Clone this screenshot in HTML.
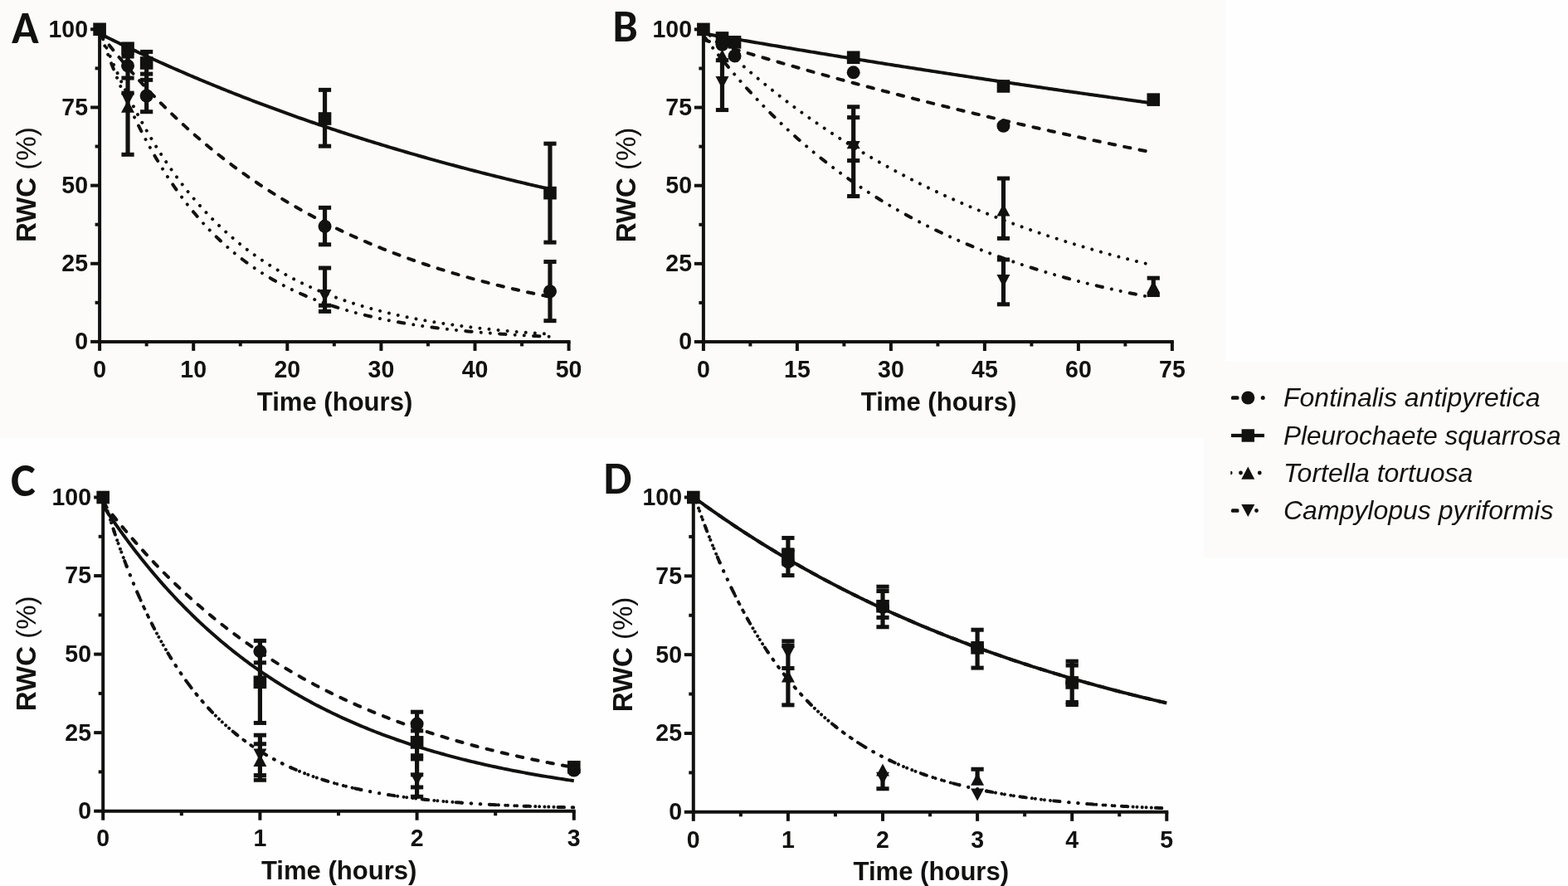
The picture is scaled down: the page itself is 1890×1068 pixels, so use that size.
<!DOCTYPE html>
<html><head><meta charset="utf-8"><title>RWC figure</title><style>html,body{margin:0;padding:0;background:#fefefe}svg{display:block}</style></head><body>
<svg width="1890" height="1068" viewBox="0 0 1890 1068">
<style>
.tl{font-family:"Liberation Sans",Arial,sans-serif;font-weight:bold;font-size:30px;fill:#111110}
.at{font-family:"Liberation Sans",Arial,sans-serif;font-weight:bold;font-size:31.05px;fill:#111110}
.ry{font-family:"Liberation Sans",Arial,sans-serif;font-weight:bold;font-size:33px;fill:#111110}
.ry tspan{font-weight:normal}
.pl{font-family:Carlito,"Liberation Sans",sans-serif;font-weight:bold;font-size:54px;fill:#111110}
.lg{font-family:"Liberation Sans",Arial,sans-serif;font-style:italic;font-size:32px;fill:#111110}
</style>
<rect width="1890" height="1068" fill="#fefefe"/>
<path d="M0 0H1477V436H1890V672H1451V528H0Z" fill="#fcfbf9"/>
<line x1="120.1" y1="33.799999999999955" x2="120.1" y2="413.9" stroke="#111110" stroke-width="4.0"/>
<line x1="118.1" y1="411.9" x2="687.6" y2="411.9" stroke="#111110" stroke-width="4.0"/>
<line x1="109.1" y1="411.90" x2="120.1" y2="411.90" stroke="#111110" stroke-width="4.0"/>
<line x1="114.6" y1="364.82" x2="120.1" y2="364.82" stroke="#111110" stroke-width="4.0"/>
<line x1="109.1" y1="317.75" x2="120.1" y2="317.75" stroke="#111110" stroke-width="4.0"/>
<line x1="114.6" y1="270.67" x2="120.1" y2="270.67" stroke="#111110" stroke-width="4.0"/>
<line x1="109.1" y1="223.60" x2="120.1" y2="223.60" stroke="#111110" stroke-width="4.0"/>
<line x1="114.6" y1="176.52" x2="120.1" y2="176.52" stroke="#111110" stroke-width="4.0"/>
<line x1="109.1" y1="129.45" x2="120.1" y2="129.45" stroke="#111110" stroke-width="4.0"/>
<line x1="114.6" y1="82.38" x2="120.1" y2="82.38" stroke="#111110" stroke-width="4.0"/>
<line x1="109.1" y1="35.30" x2="120.1" y2="35.30" stroke="#111110" stroke-width="4.0"/>
<line x1="120.10" y1="411.9" x2="120.10" y2="422.9" stroke="#111110" stroke-width="4.0"/>
<line x1="176.65" y1="411.9" x2="176.65" y2="417.4" stroke="#111110" stroke-width="4.0"/>
<line x1="233.20" y1="411.9" x2="233.20" y2="422.9" stroke="#111110" stroke-width="4.0"/>
<line x1="289.75" y1="411.9" x2="289.75" y2="417.4" stroke="#111110" stroke-width="4.0"/>
<line x1="346.30" y1="411.9" x2="346.30" y2="422.9" stroke="#111110" stroke-width="4.0"/>
<line x1="402.85" y1="411.9" x2="402.85" y2="417.4" stroke="#111110" stroke-width="4.0"/>
<line x1="459.40" y1="411.9" x2="459.40" y2="422.9" stroke="#111110" stroke-width="4.0"/>
<line x1="515.95" y1="411.9" x2="515.95" y2="417.4" stroke="#111110" stroke-width="4.0"/>
<line x1="572.50" y1="411.9" x2="572.50" y2="422.9" stroke="#111110" stroke-width="4.0"/>
<line x1="629.05" y1="411.9" x2="629.05" y2="417.4" stroke="#111110" stroke-width="4.0"/>
<line x1="685.60" y1="411.9" x2="685.60" y2="422.9" stroke="#111110" stroke-width="4.0"/>
<text transform="translate(106,421.30) scale(0.95,1)" text-anchor="end" class="tl">0</text>
<text transform="translate(106,327.15) scale(0.95,1)" text-anchor="end" class="tl">25</text>
<text transform="translate(106,233.00) scale(0.95,1)" text-anchor="end" class="tl">50</text>
<text transform="translate(106,138.85) scale(0.95,1)" text-anchor="end" class="tl">75</text>
<text transform="translate(106,44.70) scale(0.95,1)" text-anchor="end" class="tl">100</text>
<text transform="translate(120.10,454.5) scale(0.95,1)" text-anchor="middle" class="tl">0</text>
<text transform="translate(233.20,454.5) scale(0.95,1)" text-anchor="middle" class="tl">10</text>
<text transform="translate(346.30,454.5) scale(0.95,1)" text-anchor="middle" class="tl">20</text>
<text transform="translate(459.40,454.5) scale(0.95,1)" text-anchor="middle" class="tl">30</text>
<text transform="translate(572.50,454.5) scale(0.95,1)" text-anchor="middle" class="tl">40</text>
<text transform="translate(685.60,454.5) scale(0.95,1)" text-anchor="middle" class="tl">50</text>
<polyline points="120.10,40.53 122.83,41.90 125.56,43.25 128.28,44.60 131.01,45.95 133.74,47.29 136.47,48.62 139.20,49.95 141.92,51.27 144.65,52.59 147.38,53.91 150.11,55.21 152.84,56.52 155.56,57.82 158.29,59.11 161.02,60.40 163.75,61.68 166.48,62.95 169.20,64.23 171.93,65.49 174.66,66.76 177.39,68.01 180.12,69.27 182.84,70.51 185.57,71.75 188.30,72.99 191.03,74.22 193.76,75.45 196.49,76.67 199.21,77.89 201.94,79.10 204.67,80.31 207.40,81.52 210.13,82.71 212.85,83.91 215.58,85.10 218.31,86.28 221.04,87.46 223.77,88.64 226.49,89.81 229.22,90.97 231.95,92.13 234.68,93.29 237.41,94.44 240.13,95.59 242.86,96.73 245.59,97.87 248.32,99.00 251.05,100.13 253.77,101.25 256.50,102.37 259.23,103.49 261.96,104.60 264.69,105.71 267.41,106.81 270.14,107.91 272.87,109.00 275.60,110.09 278.33,111.18 281.05,112.26 283.78,113.33 286.51,114.41 289.24,115.47 291.97,116.54 294.69,117.60 297.42,118.65 300.15,119.70 302.88,120.75 305.61,121.79 308.33,122.83 311.06,123.86 313.79,124.89 316.52,125.92 319.25,126.94 321.97,127.96 324.70,128.97 327.43,129.98 330.16,130.99 332.89,131.99 335.62,132.99 338.34,133.98 341.07,134.97 343.80,135.96 346.53,136.94 349.26,137.92 351.98,138.90 354.71,139.87 357.44,140.83 360.17,141.80 362.90,142.75 365.62,143.71 368.35,144.66 371.08,145.61 373.81,146.55 376.54,147.49 379.26,148.43 381.99,149.36 384.72,150.29 387.45,151.22 390.18,152.14 392.90,153.06 395.63,153.97 398.36,154.88 401.09,155.79 403.82,156.69 406.54,157.59 409.27,158.49 412.00,159.38 414.73,160.27 417.46,161.15 420.18,162.04 422.91,162.92 425.64,163.79 428.37,164.66 431.10,165.53 433.82,166.40 436.55,167.26 439.28,168.11 442.01,168.97 444.74,169.82 447.46,170.67 450.19,171.51 452.92,172.35 455.65,173.19 458.38,174.03 461.11,174.86 463.83,175.68 466.56,176.51 469.29,177.33 472.02,178.15 474.75,178.96 477.47,179.77 480.20,180.58 482.93,181.39 485.66,182.19 488.39,182.99 491.11,183.78 493.84,184.57 496.57,185.36 499.30,186.15 502.03,186.93 504.75,187.71 507.48,188.49 510.21,189.26 512.94,190.03 515.67,190.80 518.39,191.56 521.12,192.33 523.85,193.08 526.58,193.84 529.31,194.59 532.03,195.34 534.76,196.09 537.49,196.83 540.22,197.57 542.95,198.31 545.67,199.04 548.40,199.77 551.13,200.50 553.86,201.23 556.59,201.95 559.31,202.67 562.04,203.39 564.77,204.10 567.50,204.82 570.23,205.52 572.95,206.23 575.68,206.93 578.41,207.63 581.14,208.33 583.87,209.03 586.59,209.72 589.32,210.41 592.05,211.09 594.78,211.78 597.51,212.46 600.24,213.14 602.96,213.81 605.69,214.49 608.42,215.16 611.15,215.82 613.88,216.49 616.60,217.15 619.33,217.81 622.06,218.47 624.79,219.12 627.52,219.77 630.24,220.42 632.97,221.07 635.70,221.71 638.43,222.36 641.16,222.99 643.88,223.63 646.61,224.26 649.34,224.90 652.07,225.53 654.80,226.15 657.52,226.78 660.25,227.40 662.98,228.02" fill="none" stroke="#111110" stroke-width="4.0" stroke-linejoin="round" />
<polyline points="120.10,39.78 122.83,43.31 125.56,46.80 128.28,50.26 131.01,53.68 133.74,57.08 136.47,60.44 139.20,63.77 141.92,67.07 144.65,70.34 147.38,73.58 150.11,76.79 152.84,79.96 155.56,83.11 158.29,86.23 161.02,89.32 163.75,92.38 166.48,95.41 169.20,98.41 171.93,101.39 174.66,104.33 177.39,107.25 180.12,110.14 182.84,113.01 185.57,115.84 188.30,118.65 191.03,121.44 193.76,124.20 196.49,126.93 199.21,129.64 201.94,132.32 204.67,134.97 207.40,137.61 210.13,140.21 212.85,142.79 215.58,145.35 218.31,147.89 221.04,150.40 223.77,152.88 226.49,155.35 229.22,157.79 231.95,160.20 234.68,162.60 237.41,164.97 240.13,167.32 242.86,169.65 245.59,171.95 248.32,174.24 251.05,176.50 253.77,178.74 256.50,180.96 259.23,183.16 261.96,185.34 264.69,187.50 267.41,189.64 270.14,191.75 272.87,193.85 275.60,195.93 278.33,197.99 281.05,200.03 283.78,202.05 286.51,204.05 289.24,206.04 291.97,208.00 294.69,209.95 297.42,211.87 300.15,213.78 302.88,215.67 305.61,217.55 308.33,219.40 311.06,221.24 313.79,223.06 316.52,224.87 319.25,226.66 321.97,228.43 324.70,230.18 327.43,231.92 330.16,233.64 332.89,235.34 335.62,237.03 338.34,238.71 341.07,240.36 343.80,242.01 346.53,243.63 349.26,245.24 351.98,246.84 354.71,248.42 357.44,249.99 360.17,251.54 362.90,253.08 365.62,254.60 368.35,256.11 371.08,257.60 373.81,259.08 376.54,260.55 379.26,262.00 381.99,263.44 384.72,264.87 387.45,266.28 390.18,267.68 392.90,269.06 395.63,270.43 398.36,271.79 401.09,273.14 403.82,274.48 406.54,275.80 409.27,277.11 412.00,278.40 414.73,279.69 417.46,280.96 420.18,282.22 422.91,283.47 425.64,284.71 428.37,285.93 431.10,287.15 433.82,288.35 436.55,289.54 439.28,290.72 442.01,291.89 444.74,293.05 447.46,294.20 450.19,295.34 452.92,296.46 455.65,297.58 458.38,298.68 461.11,299.78 463.83,300.86 466.56,301.93 469.29,303.00 472.02,304.05 474.75,305.10 477.47,306.13 480.20,307.16 482.93,308.17 485.66,309.18 488.39,310.17 491.11,311.16 493.84,312.14 496.57,313.10 499.30,314.06 502.03,315.01 504.75,315.96 507.48,316.89 510.21,317.81 512.94,318.73 515.67,319.63 518.39,320.53 521.12,321.42 523.85,322.30 526.58,323.17 529.31,324.04 532.03,324.90 534.76,325.74 537.49,326.58 540.22,327.42 542.95,328.24 545.67,329.06 548.40,329.87 551.13,330.67 553.86,331.46 556.59,332.25 559.31,333.03 562.04,333.80 564.77,334.57 567.50,335.33 570.23,336.08 572.95,336.82 575.68,337.56 578.41,338.29 581.14,339.01 583.87,339.73 586.59,340.43 589.32,341.14 592.05,341.83 594.78,342.52 597.51,343.21 600.24,343.88 602.96,344.55 605.69,345.22 608.42,345.87 611.15,346.53 613.88,347.17 616.60,347.81 619.33,348.44 622.06,349.07 624.79,349.69 627.52,350.31 630.24,350.92 632.97,351.52 635.70,352.12 638.43,352.71 641.16,353.30 643.88,353.88 646.61,354.46 649.34,355.03 652.07,355.60 654.80,356.16 657.52,356.71 660.25,357.26 662.98,357.81" fill="none" stroke="#111110" stroke-width="4.0" stroke-linejoin="round" stroke-dasharray="7.4 11.3" stroke-linecap="round"/>
<polyline points="120.10,36.96 122.83,43.89 125.56,50.70 128.28,57.38 131.01,63.94 133.74,70.38 136.47,76.69 139.20,82.89 141.92,88.98 144.65,94.95 147.38,100.82 150.11,106.57 152.84,112.22 155.56,117.76 158.29,123.20 161.02,128.54 163.75,133.79 166.48,138.93 169.20,143.98 171.93,148.94 174.66,153.80 177.39,158.58 180.12,163.26 182.84,167.86 185.57,172.38 188.30,176.81 191.03,181.16 193.76,185.42 196.49,189.61 199.21,193.73 201.94,197.76 204.67,201.72 207.40,205.61 210.13,209.43 212.85,213.17 215.58,216.85 218.31,220.46 221.04,224.00 223.77,227.48 226.49,230.89 229.22,234.24 231.95,237.52 234.68,240.75 237.41,243.92 240.13,247.02 242.86,250.07 245.59,253.07 248.32,256.01 251.05,258.89 253.77,261.72 256.50,264.50 259.23,267.23 261.96,269.90 264.69,272.53 267.41,275.11 270.14,277.64 272.87,280.12 275.60,282.56 278.33,284.95 281.05,287.30 283.78,289.61 286.51,291.87 289.24,294.09 291.97,296.27 294.69,298.41 297.42,300.51 300.15,302.57 302.88,304.59 305.61,306.58 308.33,308.53 311.06,310.44 313.79,312.32 316.52,314.16 319.25,315.97 321.97,317.74 324.70,319.49 327.43,321.20 330.16,322.88 332.89,324.52 335.62,326.14 338.34,327.73 341.07,329.28 343.80,330.81 346.53,332.31 349.26,333.79 351.98,335.23 354.71,336.65 357.44,338.04 360.17,339.41 362.90,340.75 365.62,342.07 368.35,343.36 371.08,344.63 373.81,345.87 376.54,347.10 379.26,348.29 381.99,349.47 384.72,350.63 387.45,351.76 390.18,352.87 392.90,353.97 395.63,355.04 398.36,356.09 401.09,357.12 403.82,358.14 406.54,359.13 409.27,360.11 412.00,361.07 414.73,362.01 417.46,362.93 420.18,363.84 422.91,364.73 425.64,365.60 428.37,366.46 431.10,367.30 433.82,368.13 436.55,368.94 439.28,369.73 442.01,370.51 444.74,371.28 447.46,372.03 450.19,372.77 452.92,373.49 455.65,374.20 458.38,374.90 461.11,375.59 463.83,376.26 466.56,376.92 469.29,377.57 472.02,378.20 474.75,378.83 477.47,379.44 480.20,380.04 482.93,380.63 485.66,381.21 488.39,381.78 491.11,382.34 493.84,382.88 496.57,383.42 499.30,383.95 502.03,384.47 504.75,384.97 507.48,385.47 510.21,385.96 512.94,386.44 515.67,386.91 518.39,387.38 521.12,387.83 523.85,388.28 526.58,388.71 529.31,389.14 532.03,389.57 534.76,389.98 537.49,390.39 540.22,390.78 542.95,391.18 545.67,391.56 548.40,391.94 551.13,392.31 553.86,392.67 556.59,393.03 559.31,393.38 562.04,393.72 564.77,394.06 567.50,394.39 570.23,394.71 572.95,395.03 575.68,395.34 578.41,395.65 581.14,395.95 583.87,396.25 586.59,396.54 589.32,396.82 592.05,397.10 594.78,397.38 597.51,397.65 600.24,397.91 602.96,398.17 605.69,398.42 608.42,398.67 611.15,398.92 613.88,399.16 616.60,399.40 619.33,399.63 622.06,399.86 624.79,400.08 627.52,400.30 630.24,400.51 632.97,400.73 635.70,400.93 638.43,401.14 641.16,401.34 643.88,401.53 646.61,401.72 649.34,401.91 652.07,402.10 654.80,402.28 657.52,402.46 660.25,402.63 662.98,402.81" fill="none" stroke="#111110" stroke-width="4.0" stroke-linejoin="round" stroke-dasharray="0.01 11.1" stroke-linecap="round"/>
<polyline points="120.10,37.90 122.83,45.69 125.56,53.32 128.28,60.79 131.01,68.11 133.74,75.27 136.47,82.28 139.20,89.15 141.92,95.87 144.65,102.46 147.38,108.90 150.11,115.21 152.84,121.39 155.56,127.44 158.29,133.37 161.02,139.17 163.75,144.85 166.48,150.41 169.20,155.86 171.93,161.19 174.66,166.41 177.39,171.52 180.12,176.52 182.84,181.43 185.57,186.22 188.30,190.92 191.03,195.52 193.76,200.03 196.49,204.44 199.21,208.76 201.94,212.98 204.67,217.12 207.40,221.18 210.13,225.15 212.85,229.03 215.58,232.84 218.31,236.56 221.04,240.21 223.77,243.78 226.49,247.28 229.22,250.71 231.95,254.06 234.68,257.34 237.41,260.56 240.13,263.71 242.86,266.79 245.59,269.81 248.32,272.76 251.05,275.65 253.77,278.49 256.50,281.26 259.23,283.98 261.96,286.63 264.69,289.24 267.41,291.79 270.14,294.28 272.87,296.73 275.60,299.12 278.33,301.46 281.05,303.76 283.78,306.01 286.51,308.21 289.24,310.36 291.97,312.47 294.69,314.53 297.42,316.55 300.15,318.53 302.88,320.47 305.61,322.37 308.33,324.23 311.06,326.05 313.79,327.83 316.52,329.57 319.25,331.28 321.97,332.95 324.70,334.59 327.43,336.19 330.16,337.76 332.89,339.30 335.62,340.81 338.34,342.28 341.07,343.72 343.80,345.14 346.53,346.52 349.26,347.87 351.98,349.20 354.71,350.50 357.44,351.77 360.17,353.01 362.90,354.23 365.62,355.43 368.35,356.60 371.08,357.74 373.81,358.86 376.54,359.96 379.26,361.03 381.99,362.08 384.72,363.11 387.45,364.12 390.18,365.11 392.90,366.08 395.63,367.02 398.36,367.95 401.09,368.86 403.82,369.74 406.54,370.61 409.27,371.47 412.00,372.30 414.73,373.12 417.46,373.92 420.18,374.70 422.91,375.47 425.64,376.22 428.37,376.95 431.10,377.67 433.82,378.38 436.55,379.07 439.28,379.74 442.01,380.40 444.74,381.05 447.46,381.68 450.19,382.31 452.92,382.91 455.65,383.51 458.38,384.09 461.11,384.66 463.83,385.22 466.56,385.77 469.29,386.30 472.02,386.83 474.75,387.34 477.47,387.84 480.20,388.34 482.93,388.82 485.66,389.29 488.39,389.75 491.11,390.21 493.84,390.65 496.57,391.08 499.30,391.51 502.03,391.92 504.75,392.33 507.48,392.73 510.21,393.12 512.94,393.50 515.67,393.88 518.39,394.24 521.12,394.60 523.85,394.95 526.58,395.30 529.31,395.63 532.03,395.96 534.76,396.29 537.49,396.60 540.22,396.91 542.95,397.22 545.67,397.51 548.40,397.80 551.13,398.09 553.86,398.37 556.59,398.64 559.31,398.91 562.04,399.17 564.77,399.43 567.50,399.68 570.23,399.92 572.95,400.16 575.68,400.40 578.41,400.63 581.14,400.85 583.87,401.08 586.59,401.29 589.32,401.50 592.05,401.71 594.78,401.91 597.51,402.11 600.24,402.31 602.96,402.50 605.69,402.68 608.42,402.87 611.15,403.05 613.88,403.22 616.60,403.39 619.33,403.56 622.06,403.73 624.79,403.89 627.52,404.04 630.24,404.20 632.97,404.35 635.70,404.50 638.43,404.64 641.16,404.79 643.88,404.92 646.61,405.06 649.34,405.19 652.07,405.32 654.80,405.45 657.52,405.58 660.25,405.70 662.98,405.82" fill="none" stroke="#111110" stroke-width="4.0" stroke-linejoin="round" stroke-dasharray="7.4 11.2 0.01 11.1 0.01 11.3" stroke-linecap="round"/>
<line x1="154.03" y1="58.27" x2="154.03" y2="186.32" stroke="#111110" stroke-width="5.2"/>
<rect x="146.43" y="65.56" width="15.2" height="5.0" fill="#111110"/>
<rect x="146.43" y="91.55" width="15.2" height="5.0" fill="#111110"/>
<rect x="146.43" y="109.63" width="15.2" height="5.0" fill="#111110"/>
<rect x="146.43" y="183.82" width="15.2" height="5.0" fill="#111110"/>
<line x1="176.65" y1="62.42" x2="176.65" y2="134.72" stroke="#111110" stroke-width="5.2"/>
<rect x="169.05" y="59.92" width="15.2" height="5.0" fill="#111110"/>
<rect x="169.05" y="86.65" width="15.2" height="5.0" fill="#111110"/>
<rect x="169.05" y="93.81" width="15.2" height="5.0" fill="#111110"/>
<rect x="169.05" y="132.22" width="15.2" height="5.0" fill="#111110"/>
<line x1="391.54" y1="108.36" x2="391.54" y2="176.15" stroke="#111110" stroke-width="5.2"/>
<rect x="383.94" y="105.86" width="15.2" height="5.0" fill="#111110"/>
<rect x="383.94" y="173.65" width="15.2" height="5.0" fill="#111110"/>
<line x1="391.54" y1="250.34" x2="391.54" y2="294.78" stroke="#111110" stroke-width="5.2"/>
<rect x="383.94" y="247.84" width="15.2" height="5.0" fill="#111110"/>
<rect x="383.94" y="292.28" width="15.2" height="5.0" fill="#111110"/>
<line x1="391.54" y1="323.02" x2="391.54" y2="375.37" stroke="#111110" stroke-width="5.2"/>
<rect x="383.94" y="320.52" width="15.2" height="5.0" fill="#111110"/>
<rect x="383.94" y="365.71" width="15.2" height="5.0" fill="#111110"/>
<rect x="383.94" y="372.87" width="15.2" height="5.0" fill="#111110"/>
<line x1="662.98" y1="173.14" x2="662.98" y2="292.14" stroke="#111110" stroke-width="5.2"/>
<rect x="655.38" y="170.64" width="15.2" height="5.0" fill="#111110"/>
<rect x="655.38" y="289.64" width="15.2" height="5.0" fill="#111110"/>
<line x1="662.98" y1="315.49" x2="662.98" y2="386.67" stroke="#111110" stroke-width="5.2"/>
<rect x="655.38" y="312.99" width="15.2" height="5.0" fill="#111110"/>
<rect x="655.38" y="384.17" width="15.2" height="5.0" fill="#111110"/>
<polygon points="154.03,120.82 162.03,135.82 146.03,135.82" fill="#111110"/>
<polygon points="154.03,127.16 162.03,112.16 146.03,112.16" fill="#111110"/>
<polygon points="391.54,364.04 399.54,349.04 383.54,349.04" fill="#111110"/>
<circle cx="154.03" cy="79.36" r="8.0" fill="#111110"/>
<circle cx="176.65" cy="115.52" r="8.0" fill="#111110"/>
<circle cx="391.54" cy="272.93" r="8.0" fill="#111110"/>
<circle cx="662.98" cy="351.27" r="8.0" fill="#111110"/>
<rect x="112.30" y="27.50" width="15.6" height="15.6" fill="#111110"/>
<rect x="146.23" y="50.47" width="15.6" height="15.6" fill="#111110"/>
<rect x="168.85" y="68.17" width="15.6" height="15.6" fill="#111110"/>
<rect x="383.74" y="135.21" width="15.6" height="15.6" fill="#111110"/>
<rect x="655.18" y="224.84" width="15.6" height="15.6" fill="#111110"/>
<line x1="847.9" y1="33.89999999999998" x2="847.9" y2="414.0" stroke="#111110" stroke-width="4.0"/>
<line x1="845.9" y1="412.0" x2="1414.875" y2="412.0" stroke="#111110" stroke-width="4.0"/>
<line x1="836.9" y1="412.00" x2="847.9" y2="412.00" stroke="#111110" stroke-width="4.0"/>
<line x1="842.4" y1="364.93" x2="847.9" y2="364.93" stroke="#111110" stroke-width="4.0"/>
<line x1="836.9" y1="317.85" x2="847.9" y2="317.85" stroke="#111110" stroke-width="4.0"/>
<line x1="842.4" y1="270.77" x2="847.9" y2="270.77" stroke="#111110" stroke-width="4.0"/>
<line x1="836.9" y1="223.70" x2="847.9" y2="223.70" stroke="#111110" stroke-width="4.0"/>
<line x1="842.4" y1="176.62" x2="847.9" y2="176.62" stroke="#111110" stroke-width="4.0"/>
<line x1="836.9" y1="129.55" x2="847.9" y2="129.55" stroke="#111110" stroke-width="4.0"/>
<line x1="842.4" y1="82.48" x2="847.9" y2="82.48" stroke="#111110" stroke-width="4.0"/>
<line x1="836.9" y1="35.40" x2="847.9" y2="35.40" stroke="#111110" stroke-width="4.0"/>
<line x1="847.90" y1="412.0" x2="847.90" y2="423.0" stroke="#111110" stroke-width="4.0"/>
<line x1="904.40" y1="412.0" x2="904.40" y2="417.5" stroke="#111110" stroke-width="4.0"/>
<line x1="960.89" y1="412.0" x2="960.89" y2="423.0" stroke="#111110" stroke-width="4.0"/>
<line x1="1017.39" y1="412.0" x2="1017.39" y2="417.5" stroke="#111110" stroke-width="4.0"/>
<line x1="1073.89" y1="412.0" x2="1073.89" y2="423.0" stroke="#111110" stroke-width="4.0"/>
<line x1="1130.39" y1="412.0" x2="1130.39" y2="417.5" stroke="#111110" stroke-width="4.0"/>
<line x1="1186.88" y1="412.0" x2="1186.88" y2="423.0" stroke="#111110" stroke-width="4.0"/>
<line x1="1243.38" y1="412.0" x2="1243.38" y2="417.5" stroke="#111110" stroke-width="4.0"/>
<line x1="1299.88" y1="412.0" x2="1299.88" y2="423.0" stroke="#111110" stroke-width="4.0"/>
<line x1="1356.38" y1="412.0" x2="1356.38" y2="417.5" stroke="#111110" stroke-width="4.0"/>
<line x1="1412.88" y1="412.0" x2="1412.88" y2="423.0" stroke="#111110" stroke-width="4.0"/>
<text transform="translate(834,421.40) scale(0.95,1)" text-anchor="end" class="tl">0</text>
<text transform="translate(834,327.25) scale(0.95,1)" text-anchor="end" class="tl">25</text>
<text transform="translate(834,233.10) scale(0.95,1)" text-anchor="end" class="tl">50</text>
<text transform="translate(834,138.95) scale(0.95,1)" text-anchor="end" class="tl">75</text>
<text transform="translate(834,44.80) scale(0.95,1)" text-anchor="end" class="tl">100</text>
<text transform="translate(847.90,454.5) scale(0.95,1)" text-anchor="middle" class="tl">0</text>
<text transform="translate(960.89,454.5) scale(0.95,1)" text-anchor="middle" class="tl">15</text>
<text transform="translate(1073.89,454.5) scale(0.95,1)" text-anchor="middle" class="tl">30</text>
<text transform="translate(1186.88,454.5) scale(0.95,1)" text-anchor="middle" class="tl">45</text>
<text transform="translate(1299.88,454.5) scale(0.95,1)" text-anchor="middle" class="tl">60</text>
<text transform="translate(1412.88,454.5) scale(0.95,1)" text-anchor="middle" class="tl">75</text>
<polyline points="847.90,40.33 850.63,40.81 853.35,41.29 856.08,41.77 858.80,42.24 861.53,42.72 864.25,43.19 866.98,43.67 869.70,44.14 872.43,44.62 875.16,45.09 877.88,45.56 880.61,46.03 883.33,46.50 886.06,46.97 888.78,47.44 891.51,47.91 894.23,48.38 896.96,48.85 899.68,49.32 902.41,49.78 905.14,50.25 907.86,50.72 910.59,51.18 913.31,51.65 916.04,52.11 918.76,52.57 921.49,53.04 924.21,53.50 926.94,53.96 929.67,54.42 932.39,54.88 935.12,55.34 937.84,55.80 940.57,56.26 943.29,56.72 946.02,57.18 948.74,57.63 951.47,58.09 954.19,58.54 956.92,59.00 959.65,59.45 962.37,59.91 965.10,60.36 967.82,60.81 970.55,61.27 973.27,61.72 976.00,62.17 978.72,62.62 981.45,63.07 984.18,63.52 986.90,63.97 989.63,64.42 992.35,64.87 995.08,65.31 997.80,65.76 1000.53,66.21 1003.25,66.65 1005.98,67.10 1008.70,67.54 1011.43,67.98 1014.16,68.43 1016.88,68.87 1019.61,69.31 1022.33,69.75 1025.06,70.19 1027.78,70.64 1030.51,71.08 1033.23,71.51 1035.96,71.95 1038.69,72.39 1041.41,72.83 1044.14,73.27 1046.86,73.70 1049.59,74.14 1052.31,74.57 1055.04,75.01 1057.76,75.44 1060.49,75.88 1063.22,76.31 1065.94,76.74 1068.67,77.18 1071.39,77.61 1074.12,78.04 1076.84,78.47 1079.57,78.90 1082.29,79.33 1085.02,79.76 1087.74,80.19 1090.47,80.61 1093.20,81.04 1095.92,81.47 1098.65,81.89 1101.37,82.32 1104.10,82.74 1106.82,83.17 1109.55,83.59 1112.27,84.02 1115.00,84.44 1117.73,84.86 1120.45,85.28 1123.18,85.71 1125.90,86.13 1128.63,86.55 1131.35,86.97 1134.08,87.39 1136.80,87.80 1139.53,88.22 1142.25,88.64 1144.98,89.06 1147.71,89.47 1150.43,89.89 1153.16,90.31 1155.88,90.72 1158.61,91.14 1161.33,91.55 1164.06,91.96 1166.78,92.38 1169.51,92.79 1172.24,93.20 1174.96,93.61 1177.69,94.02 1180.41,94.43 1183.14,94.84 1185.86,95.25 1188.59,95.66 1191.31,96.07 1194.04,96.48 1196.76,96.88 1199.49,97.29 1202.22,97.70 1204.94,98.10 1207.67,98.51 1210.39,98.91 1213.12,99.32 1215.84,99.72 1218.57,100.12 1221.29,100.53 1224.02,100.93 1226.75,101.33 1229.47,101.73 1232.20,102.13 1234.92,102.53 1237.65,102.93 1240.37,103.33 1243.10,103.73 1245.82,104.13 1248.55,104.52 1251.28,104.92 1254.00,105.32 1256.73,105.71 1259.45,106.11 1262.18,106.50 1264.90,106.90 1267.63,107.29 1270.35,107.69 1273.08,108.08 1275.80,108.47 1278.53,108.86 1281.26,109.25 1283.98,109.65 1286.71,110.04 1289.43,110.43 1292.16,110.82 1294.88,111.21 1297.61,111.59 1300.33,111.98 1303.06,112.37 1305.79,112.76 1308.51,113.14 1311.24,113.53 1313.96,113.91 1316.69,114.30 1319.41,114.68 1322.14,115.07 1324.86,115.45 1327.59,115.84 1330.31,116.22 1333.04,116.60 1335.77,116.98 1338.49,117.36 1341.22,117.74 1343.94,118.12 1346.67,118.50 1349.39,118.88 1352.12,119.26 1354.84,119.64 1357.57,120.02 1360.30,120.40 1363.02,120.77 1365.75,121.15 1368.47,121.53 1371.20,121.90 1373.92,122.28 1376.65,122.65 1379.37,123.03 1382.10,123.40 1384.82,123.77 1387.55,124.14 1390.28,124.52" fill="none" stroke="#111110" stroke-width="4.0" stroke-linejoin="round" />
<polyline points="847.90,47.83 850.63,48.67 853.35,49.51 856.08,50.36 858.80,51.19 861.53,52.03 864.25,52.87 866.98,53.70 869.70,54.53 872.43,55.36 875.16,56.19 877.88,57.01 880.61,57.84 883.33,58.66 886.06,59.48 888.78,60.30 891.51,61.12 894.23,61.93 896.96,62.74 899.68,63.56 902.41,64.37 905.14,65.17 907.86,65.98 910.59,66.78 913.31,67.59 916.04,68.39 918.76,69.19 921.49,69.98 924.21,70.78 926.94,71.57 929.67,72.37 932.39,73.16 935.12,73.94 937.84,74.73 940.57,75.52 943.29,76.30 946.02,77.08 948.74,77.86 951.47,78.64 954.19,79.42 956.92,80.19 959.65,80.96 962.37,81.73 965.10,82.50 967.82,83.27 970.55,84.04 973.27,84.80 976.00,85.57 978.72,86.33 981.45,87.09 984.18,87.84 986.90,88.60 989.63,89.35 992.35,90.11 995.08,90.86 997.80,91.61 1000.53,92.36 1003.25,93.10 1005.98,93.85 1008.70,94.59 1011.43,95.33 1014.16,96.07 1016.88,96.81 1019.61,97.55 1022.33,98.28 1025.06,99.01 1027.78,99.74 1030.51,100.47 1033.23,101.20 1035.96,101.93 1038.69,102.65 1041.41,103.38 1044.14,104.10 1046.86,104.82 1049.59,105.54 1052.31,106.26 1055.04,106.97 1057.76,107.69 1060.49,108.40 1063.22,109.11 1065.94,109.82 1068.67,110.53 1071.39,111.23 1074.12,111.94 1076.84,112.64 1079.57,113.34 1082.29,114.04 1085.02,114.74 1087.74,115.44 1090.47,116.13 1093.20,116.83 1095.92,117.52 1098.65,118.21 1101.37,118.90 1104.10,119.59 1106.82,120.27 1109.55,120.96 1112.27,121.64 1115.00,122.32 1117.73,123.00 1120.45,123.68 1123.18,124.36 1125.90,125.03 1128.63,125.71 1131.35,126.38 1134.08,127.05 1136.80,127.72 1139.53,128.39 1142.25,129.06 1144.98,129.72 1147.71,130.38 1150.43,131.05 1153.16,131.71 1155.88,132.37 1158.61,133.03 1161.33,133.68 1164.06,134.34 1166.78,134.99 1169.51,135.64 1172.24,136.29 1174.96,136.94 1177.69,137.59 1180.41,138.24 1183.14,138.88 1185.86,139.53 1188.59,140.17 1191.31,140.81 1194.04,141.45 1196.76,142.09 1199.49,142.72 1202.22,143.36 1204.94,143.99 1207.67,144.62 1210.39,145.25 1213.12,145.88 1215.84,146.51 1218.57,147.14 1221.29,147.76 1224.02,148.39 1226.75,149.01 1229.47,149.63 1232.20,150.25 1234.92,150.87 1237.65,151.49 1240.37,152.10 1243.10,152.72 1245.82,153.33 1248.55,153.94 1251.28,154.55 1254.00,155.16 1256.73,155.77 1259.45,156.38 1262.18,156.98 1264.90,157.59 1267.63,158.19 1270.35,158.79 1273.08,159.39 1275.80,159.99 1278.53,160.58 1281.26,161.18 1283.98,161.78 1286.71,162.37 1289.43,162.96 1292.16,163.55 1294.88,164.14 1297.61,164.73 1300.33,165.31 1303.06,165.90 1305.79,166.48 1308.51,167.07 1311.24,167.65 1313.96,168.23 1316.69,168.81 1319.41,169.39 1322.14,169.96 1324.86,170.54 1327.59,171.11 1330.31,171.68 1333.04,172.25 1335.77,172.82 1338.49,173.39 1341.22,173.96 1343.94,174.53 1346.67,175.09 1349.39,175.66 1352.12,176.22 1354.84,176.78 1357.57,177.34 1360.30,177.90 1363.02,178.46 1365.75,179.01 1368.47,179.57 1371.20,180.12 1373.92,180.67 1376.65,181.23 1379.37,181.78 1382.10,182.33 1384.82,182.87 1387.55,183.42 1390.28,183.97" fill="none" stroke="#111110" stroke-width="4.0" stroke-linejoin="round" stroke-dasharray="7.4 11.3" stroke-linecap="round"/>
<polyline points="847.90,35.02 850.63,37.71 853.35,40.37 856.08,43.02 858.80,45.65 861.53,48.25 864.25,50.84 866.98,53.42 869.70,55.97 872.43,58.50 875.16,61.02 877.88,63.52 880.61,66.00 883.33,68.46 886.06,70.90 888.78,73.33 891.51,75.74 894.23,78.13 896.96,80.51 899.68,82.87 902.41,85.21 905.14,87.53 907.86,89.84 910.59,92.13 913.31,94.41 916.04,96.66 918.76,98.91 921.49,101.13 924.21,103.34 926.94,105.54 929.67,107.72 932.39,109.88 935.12,112.03 937.84,114.16 940.57,116.27 943.29,118.38 946.02,120.46 948.74,122.53 951.47,124.59 954.19,126.63 956.92,128.66 959.65,130.67 962.37,132.67 965.10,134.66 967.82,136.62 970.55,138.58 973.27,140.52 976.00,142.45 978.72,144.36 981.45,146.26 984.18,148.15 986.90,150.02 989.63,151.88 992.35,153.73 995.08,155.56 997.80,157.38 1000.53,159.19 1003.25,160.98 1005.98,162.76 1008.70,164.53 1011.43,166.29 1014.16,168.03 1016.88,169.76 1019.61,171.48 1022.33,173.18 1025.06,174.88 1027.78,176.56 1030.51,178.23 1033.23,179.88 1035.96,181.53 1038.69,183.16 1041.41,184.78 1044.14,186.39 1046.86,187.99 1049.59,189.58 1052.31,191.15 1055.04,192.72 1057.76,194.27 1060.49,195.81 1063.22,197.35 1065.94,198.87 1068.67,200.37 1071.39,201.87 1074.12,203.36 1076.84,204.84 1079.57,206.30 1082.29,207.76 1085.02,209.20 1087.74,210.64 1090.47,212.06 1093.20,213.48 1095.92,214.88 1098.65,216.28 1101.37,217.66 1104.10,219.03 1106.82,220.40 1109.55,221.75 1112.27,223.10 1115.00,224.43 1117.73,225.76 1120.45,227.08 1123.18,228.38 1125.90,229.68 1128.63,230.97 1131.35,232.25 1134.08,233.52 1136.80,234.78 1139.53,236.03 1142.25,237.27 1144.98,238.50 1147.71,239.73 1150.43,240.94 1153.16,242.15 1155.88,243.35 1158.61,244.54 1161.33,245.72 1164.06,246.89 1166.78,248.06 1169.51,249.21 1172.24,250.36 1174.96,251.50 1177.69,252.63 1180.41,253.76 1183.14,254.87 1185.86,255.98 1188.59,257.08 1191.31,258.17 1194.04,259.25 1196.76,260.33 1199.49,261.40 1202.22,262.46 1204.94,263.51 1207.67,264.56 1210.39,265.59 1213.12,266.62 1215.84,267.65 1218.57,268.66 1221.29,269.67 1224.02,270.67 1226.75,271.67 1229.47,272.65 1232.20,273.63 1234.92,274.61 1237.65,275.57 1240.37,276.53 1243.10,277.48 1245.82,278.43 1248.55,279.37 1251.28,280.30 1254.00,281.22 1256.73,282.14 1259.45,283.05 1262.18,283.96 1264.90,284.86 1267.63,285.75 1270.35,286.63 1273.08,287.51 1275.80,288.39 1278.53,289.25 1281.26,290.11 1283.98,290.97 1286.71,291.82 1289.43,292.66 1292.16,293.49 1294.88,294.32 1297.61,295.15 1300.33,295.97 1303.06,296.78 1305.79,297.59 1308.51,298.39 1311.24,299.18 1313.96,299.97 1316.69,300.76 1319.41,301.53 1322.14,302.31 1324.86,303.07 1327.59,303.83 1330.31,304.59 1333.04,305.34 1335.77,306.09 1338.49,306.83 1341.22,307.56 1343.94,308.29 1346.67,309.01 1349.39,309.73 1352.12,310.45 1354.84,311.15 1357.57,311.86 1360.30,312.56 1363.02,313.25 1365.75,313.94 1368.47,314.62 1371.20,315.30 1373.92,315.97 1376.65,316.64 1379.37,317.31 1382.10,317.97 1384.82,318.62 1387.55,319.27 1390.28,319.92" fill="none" stroke="#111110" stroke-width="4.0" stroke-linejoin="round" stroke-dasharray="0.01 11.1" stroke-linecap="round"/>
<polyline points="847.90,42.93 850.63,46.55 853.35,50.13 856.08,53.68 858.80,57.20 861.53,60.67 864.25,64.12 866.98,67.53 869.70,70.91 872.43,74.25 875.16,77.56 877.88,80.84 880.61,84.08 883.33,87.29 886.06,90.48 888.78,93.63 891.51,96.75 894.23,99.83 896.96,102.89 899.68,105.92 902.41,108.92 905.14,111.89 907.86,114.82 910.59,117.73 913.31,120.62 916.04,123.47 918.76,126.29 921.49,129.09 924.21,131.86 926.94,134.60 929.67,137.32 932.39,140.00 935.12,142.67 937.84,145.30 940.57,147.91 943.29,150.49 946.02,153.05 948.74,155.58 951.47,158.09 954.19,160.58 956.92,163.03 959.65,165.47 962.37,167.88 965.10,170.27 967.82,172.63 970.55,174.97 973.27,177.29 976.00,179.58 978.72,181.85 981.45,184.10 984.18,186.33 986.90,188.53 989.63,190.71 992.35,192.87 995.08,195.01 997.80,197.13 1000.53,199.23 1003.25,201.31 1005.98,203.37 1008.70,205.40 1011.43,207.42 1014.16,209.42 1016.88,211.39 1019.61,213.35 1022.33,215.29 1025.06,217.21 1027.78,219.11 1030.51,220.99 1033.23,222.85 1035.96,224.69 1038.69,226.52 1041.41,228.33 1044.14,230.12 1046.86,231.89 1049.59,233.65 1052.31,235.39 1055.04,237.11 1057.76,238.81 1060.49,240.50 1063.22,242.17 1065.94,243.82 1068.67,245.46 1071.39,247.08 1074.12,248.68 1076.84,250.27 1079.57,251.85 1082.29,253.41 1085.02,254.95 1087.74,256.48 1090.47,257.99 1093.20,259.49 1095.92,260.97 1098.65,262.44 1101.37,263.89 1104.10,265.33 1106.82,266.76 1109.55,268.17 1112.27,269.57 1115.00,270.95 1117.73,272.32 1120.45,273.68 1123.18,275.02 1125.90,276.35 1128.63,277.66 1131.35,278.97 1134.08,280.26 1136.80,281.54 1139.53,282.80 1142.25,284.06 1144.98,285.30 1147.71,286.52 1150.43,287.74 1153.16,288.94 1155.88,290.14 1158.61,291.32 1161.33,292.49 1164.06,293.64 1166.78,294.79 1169.51,295.92 1172.24,297.05 1174.96,298.16 1177.69,299.26 1180.41,300.35 1183.14,301.43 1185.86,302.50 1188.59,303.56 1191.31,304.61 1194.04,305.65 1196.76,306.67 1199.49,307.69 1202.22,308.70 1204.94,309.70 1207.67,310.68 1210.39,311.66 1213.12,312.63 1215.84,313.59 1218.57,314.54 1221.29,315.48 1224.02,316.41 1226.75,317.33 1229.47,318.24 1232.20,319.15 1234.92,320.04 1237.65,320.93 1240.37,321.80 1243.10,322.67 1245.82,323.53 1248.55,324.38 1251.28,325.22 1254.00,326.06 1256.73,326.88 1259.45,327.70 1262.18,328.51 1264.90,329.31 1267.63,330.11 1270.35,330.90 1273.08,331.67 1275.80,332.44 1278.53,333.21 1281.26,333.96 1283.98,334.71 1286.71,335.45 1289.43,336.19 1292.16,336.91 1294.88,337.63 1297.61,338.34 1300.33,339.05 1303.06,339.75 1305.79,340.44 1308.51,341.12 1311.24,341.80 1313.96,342.47 1316.69,343.14 1319.41,343.79 1322.14,344.44 1324.86,345.09 1327.59,345.73 1330.31,346.36 1333.04,346.99 1335.77,347.61 1338.49,348.22 1341.22,348.83 1343.94,349.43 1346.67,350.02 1349.39,350.61 1352.12,351.20 1354.84,351.78 1357.57,352.35 1360.30,352.92 1363.02,353.48 1365.75,354.03 1368.47,354.58 1371.20,355.13 1373.92,355.67 1376.65,356.20 1379.37,356.73 1382.10,357.25 1384.82,357.77 1387.55,358.29 1390.28,358.79" fill="none" stroke="#111110" stroke-width="4.0" stroke-linejoin="round" stroke-dasharray="7.4 11.2 0.01 11.1 0.01 11.3" stroke-linecap="round"/>
<line x1="870.50" y1="72.68" x2="870.50" y2="132.56" stroke="#111110" stroke-width="5.2"/>
<rect x="862.90" y="70.18" width="15.2" height="5.0" fill="#111110"/>
<rect x="862.90" y="130.06" width="15.2" height="5.0" fill="#111110"/>
<line x1="1028.69" y1="128.80" x2="1028.69" y2="236.50" stroke="#111110" stroke-width="5.2"/>
<rect x="1021.09" y="126.30" width="15.2" height="5.0" fill="#111110"/>
<rect x="1021.09" y="139.10" width="15.2" height="5.0" fill="#111110"/>
<rect x="1021.09" y="191.07" width="15.2" height="5.0" fill="#111110"/>
<rect x="1021.09" y="234.00" width="15.2" height="5.0" fill="#111110"/>
<line x1="1209.48" y1="215.04" x2="1209.48" y2="287.35" stroke="#111110" stroke-width="5.2"/>
<rect x="1201.88" y="212.54" width="15.2" height="5.0" fill="#111110"/>
<rect x="1201.88" y="284.85" width="15.2" height="5.0" fill="#111110"/>
<line x1="1209.48" y1="312.95" x2="1209.48" y2="366.81" stroke="#111110" stroke-width="5.2"/>
<rect x="1201.88" y="310.45" width="15.2" height="5.0" fill="#111110"/>
<rect x="1201.88" y="364.31" width="15.2" height="5.0" fill="#111110"/>
<line x1="1390.28" y1="335.17" x2="1390.28" y2="355.51" stroke="#111110" stroke-width="5.2"/>
<rect x="1382.68" y="332.67" width="15.2" height="5.0" fill="#111110"/>
<rect x="1382.68" y="353.01" width="15.2" height="5.0" fill="#111110"/>
<polygon points="870.50,106.92 878.50,91.92 862.50,91.92" fill="#111110"/>
<polygon points="1028.69,184.88 1036.69,169.88 1020.69,169.88" fill="#111110"/>
<polygon points="1209.48,346.06 1217.48,331.06 1201.48,331.06" fill="#111110"/>
<polygon points="870.50,59.53 878.50,74.53 862.50,74.53" fill="#111110"/>
<polygon points="1028.69,164.23 1036.69,179.23 1020.69,179.23" fill="#111110"/>
<polygon points="1209.48,245.57 1217.48,260.57 1201.48,260.57" fill="#111110"/>
<polygon points="1390.28,338.22 1398.28,353.22 1382.28,353.22" fill="#111110"/>
<circle cx="870.50" cy="53.85" r="8.0" fill="#111110"/>
<circle cx="885.56" cy="67.41" r="8.0" fill="#111110"/>
<circle cx="1028.69" cy="87.37" r="8.0" fill="#111110"/>
<circle cx="1209.48" cy="151.77" r="8.0" fill="#111110"/>
<rect x="840.10" y="27.60" width="15.6" height="15.6" fill="#111110"/>
<rect x="862.70" y="38.14" width="15.6" height="15.6" fill="#111110"/>
<rect x="877.76" y="43.04" width="15.6" height="15.6" fill="#111110"/>
<rect x="1020.89" y="61.49" width="15.6" height="15.6" fill="#111110"/>
<rect x="1201.68" y="96.14" width="15.6" height="15.6" fill="#111110"/>
<rect x="1382.48" y="112.33" width="15.6" height="15.6" fill="#111110"/>
<line x1="124.2" y1="598.0" x2="124.2" y2="979.7" stroke="#111110" stroke-width="4.0"/>
<line x1="122.2" y1="977.7" x2="693.8" y2="977.7" stroke="#111110" stroke-width="4.0"/>
<line x1="113.2" y1="977.70" x2="124.2" y2="977.70" stroke="#111110" stroke-width="4.0"/>
<line x1="118.7" y1="930.43" x2="124.2" y2="930.43" stroke="#111110" stroke-width="4.0"/>
<line x1="113.2" y1="883.15" x2="124.2" y2="883.15" stroke="#111110" stroke-width="4.0"/>
<line x1="118.7" y1="835.88" x2="124.2" y2="835.88" stroke="#111110" stroke-width="4.0"/>
<line x1="113.2" y1="788.60" x2="124.2" y2="788.60" stroke="#111110" stroke-width="4.0"/>
<line x1="118.7" y1="741.33" x2="124.2" y2="741.33" stroke="#111110" stroke-width="4.0"/>
<line x1="113.2" y1="694.05" x2="124.2" y2="694.05" stroke="#111110" stroke-width="4.0"/>
<line x1="118.7" y1="646.78" x2="124.2" y2="646.78" stroke="#111110" stroke-width="4.0"/>
<line x1="113.2" y1="599.50" x2="124.2" y2="599.50" stroke="#111110" stroke-width="4.0"/>
<line x1="124.20" y1="977.7" x2="124.20" y2="988.7" stroke="#111110" stroke-width="4.0"/>
<line x1="218.80" y1="977.7" x2="218.80" y2="983.2" stroke="#111110" stroke-width="4.0"/>
<line x1="313.40" y1="977.7" x2="313.40" y2="988.7" stroke="#111110" stroke-width="4.0"/>
<line x1="408.00" y1="977.7" x2="408.00" y2="983.2" stroke="#111110" stroke-width="4.0"/>
<line x1="502.60" y1="977.7" x2="502.60" y2="988.7" stroke="#111110" stroke-width="4.0"/>
<line x1="597.20" y1="977.7" x2="597.20" y2="983.2" stroke="#111110" stroke-width="4.0"/>
<line x1="691.80" y1="977.7" x2="691.80" y2="988.7" stroke="#111110" stroke-width="4.0"/>
<text transform="translate(110,987.10) scale(0.95,1)" text-anchor="end" class="tl">0</text>
<text transform="translate(110,892.55) scale(0.95,1)" text-anchor="end" class="tl">25</text>
<text transform="translate(110,798.00) scale(0.95,1)" text-anchor="end" class="tl">50</text>
<text transform="translate(110,703.45) scale(0.95,1)" text-anchor="end" class="tl">75</text>
<text transform="translate(110,608.90) scale(0.95,1)" text-anchor="end" class="tl">100</text>
<text transform="translate(124.20,1020) scale(0.95,1)" text-anchor="middle" class="tl">0</text>
<text transform="translate(313.40,1020) scale(0.95,1)" text-anchor="middle" class="tl">1</text>
<text transform="translate(502.60,1020) scale(0.95,1)" text-anchor="middle" class="tl">2</text>
<text transform="translate(691.80,1020) scale(0.95,1)" text-anchor="middle" class="tl">3</text>
<polyline points="124.20,609.48 127.05,613.80 129.90,618.06 132.76,622.27 135.61,626.43 138.46,630.54 141.31,634.60 144.17,638.62 147.02,642.59 149.87,646.51 152.72,650.39 155.57,654.22 158.43,658.00 161.28,661.74 164.13,665.44 166.98,669.09 169.84,672.70 172.69,676.27 175.54,679.80 178.39,683.28 181.25,686.73 184.10,690.13 186.95,693.49 189.80,696.81 192.65,700.10 195.51,703.34 198.36,706.55 201.21,709.72 204.06,712.85 206.92,715.95 209.77,719.01 212.62,722.03 215.47,725.02 218.32,727.97 221.18,730.89 224.03,733.77 226.88,736.62 229.73,739.44 232.59,742.22 235.44,744.97 238.29,747.69 241.14,750.37 243.99,753.03 246.85,755.65 249.70,758.24 252.55,760.80 255.40,763.34 258.26,765.84 261.11,768.31 263.96,770.75 266.81,773.17 269.67,775.55 272.52,777.91 275.37,780.24 278.22,782.54 281.07,784.82 283.93,787.07 286.78,789.29 289.63,791.49 292.48,793.66 295.34,795.80 298.19,797.92 301.04,800.02 303.89,802.09 306.74,804.13 309.60,806.15 312.45,808.15 315.30,810.13 318.15,812.08 321.01,814.00 323.86,815.91 326.71,817.79 329.56,819.65 332.42,821.49 335.27,823.31 338.12,825.11 340.97,826.88 343.82,828.64 346.68,830.37 349.53,832.08 352.38,833.77 355.23,835.45 358.09,837.10 360.94,838.73 363.79,840.35 366.64,841.94 369.49,843.52 372.35,845.08 375.20,846.62 378.05,848.14 380.90,849.65 383.76,851.13 386.61,852.60 389.46,854.05 392.31,855.49 395.16,856.90 398.02,858.30 400.87,859.69 403.72,861.06 406.57,862.41 409.43,863.74 412.28,865.07 415.13,866.37 417.98,867.66 420.84,868.93 423.69,870.19 426.54,871.44 429.39,872.67 432.24,873.88 435.10,875.08 437.95,876.27 440.80,877.44 443.65,878.60 446.51,879.75 449.36,880.88 452.21,882.00 455.06,883.10 457.91,884.20 460.77,885.28 463.62,886.34 466.47,887.40 469.32,888.44 472.18,889.47 475.03,890.49 477.88,891.49 480.73,892.49 483.58,893.47 486.44,894.44 489.29,895.40 492.14,896.35 494.99,897.28 497.85,898.21 500.70,899.12 503.55,900.03 506.40,900.92 509.26,901.81 512.11,902.68 514.96,903.54 517.81,904.39 520.66,905.23 523.52,906.07 526.37,906.89 529.22,907.70 532.07,908.51 534.93,909.30 537.78,910.08 540.63,910.86 543.48,911.62 546.33,912.38 549.19,913.13 552.04,913.87 554.89,914.60 557.74,915.32 560.60,916.04 563.45,916.74 566.30,917.44 569.15,918.13 572.01,918.81 574.86,919.48 577.71,920.14 580.56,920.80 583.41,921.45 586.27,922.09 589.12,922.73 591.97,923.35 594.82,923.97 597.68,924.58 600.53,925.19 603.38,925.78 606.23,926.38 609.08,926.96 611.94,927.54 614.79,928.11 617.64,928.67 620.49,929.22 623.35,929.77 626.20,930.32 629.05,930.86 631.90,931.39 634.75,931.91 637.61,932.43 640.46,932.94 643.31,933.45 646.16,933.95 649.02,934.44 651.87,934.93 654.72,935.41 657.57,935.89 660.43,936.36 663.28,936.83 666.13,937.29 668.98,937.74 671.83,938.19 674.69,938.64 677.54,939.08 680.39,939.51 683.24,939.94 686.10,940.36 688.95,940.78 691.80,941.20" fill="none" stroke="#111110" stroke-width="4.0" stroke-linejoin="round" />
<polyline points="124.20,605.89 127.05,609.61 129.90,613.28 132.76,616.92 135.61,620.53 138.46,624.09 141.31,627.62 144.17,631.12 147.02,634.58 149.87,638.01 152.72,641.40 155.57,644.75 158.43,648.07 161.28,651.36 164.13,654.62 166.98,657.84 169.84,661.03 172.69,664.19 175.54,667.32 178.39,670.41 181.25,673.47 184.10,676.51 186.95,679.51 189.80,682.48 192.65,685.42 195.51,688.33 198.36,691.21 201.21,694.07 204.06,696.89 206.92,699.69 209.77,702.45 212.62,705.19 215.47,707.91 218.32,710.59 221.18,713.25 224.03,715.88 226.88,718.48 229.73,721.06 232.59,723.61 235.44,726.14 238.29,728.64 241.14,731.11 243.99,733.56 246.85,735.99 249.70,738.39 252.55,740.77 255.40,743.12 258.26,745.45 261.11,747.75 263.96,750.04 266.81,752.29 269.67,754.53 272.52,756.74 275.37,758.94 278.22,761.10 281.07,763.25 283.93,765.38 286.78,767.48 289.63,769.56 292.48,771.63 295.34,773.67 298.19,775.69 301.04,777.69 303.89,779.67 306.74,781.63 309.60,783.57 312.45,785.49 315.30,787.39 318.15,789.27 321.01,791.13 323.86,792.98 326.71,794.80 329.56,796.61 332.42,798.40 335.27,800.17 338.12,801.92 340.97,803.66 343.82,805.37 346.68,807.07 349.53,808.76 352.38,810.42 355.23,812.07 358.09,813.71 360.94,815.32 363.79,816.92 366.64,818.50 369.49,820.07 372.35,821.62 375.20,823.16 378.05,824.68 380.90,826.19 383.76,827.68 386.61,829.15 389.46,830.61 392.31,832.06 395.16,833.49 398.02,834.90 400.87,836.31 403.72,837.69 406.57,839.07 409.43,840.43 412.28,841.77 415.13,843.11 417.98,844.43 420.84,845.73 423.69,847.02 426.54,848.30 429.39,849.57 432.24,850.82 435.10,852.06 437.95,853.29 440.80,854.51 443.65,855.71 446.51,856.91 449.36,858.09 452.21,859.25 455.06,860.41 457.91,861.55 460.77,862.69 463.62,863.81 466.47,864.92 469.32,866.02 472.18,867.10 475.03,868.18 477.88,869.25 480.73,870.30 483.58,871.35 486.44,872.38 489.29,873.40 492.14,874.42 494.99,875.42 497.85,876.41 500.70,877.40 503.55,878.37 506.40,879.33 509.26,880.29 512.11,881.23 514.96,882.16 517.81,883.09 520.66,884.00 523.52,884.91 526.37,885.81 529.22,886.69 532.07,887.57 534.93,888.44 537.78,889.30 540.63,890.16 543.48,891.00 546.33,891.84 549.19,892.66 552.04,893.48 554.89,894.29 557.74,895.10 560.60,895.89 563.45,896.68 566.30,897.45 569.15,898.22 572.01,898.99 574.86,899.74 577.71,900.49 580.56,901.23 583.41,901.96 586.27,902.68 589.12,903.40 591.97,904.11 594.82,904.82 597.68,905.51 600.53,906.20 603.38,906.88 606.23,907.56 609.08,908.23 611.94,908.89 614.79,909.54 617.64,910.19 620.49,910.83 623.35,911.47 626.20,912.10 629.05,912.72 631.90,913.33 634.75,913.94 637.61,914.55 640.46,915.15 643.31,915.74 646.16,916.32 649.02,916.90 651.87,917.48 654.72,918.04 657.57,918.61 660.43,919.16 663.28,919.71 666.13,920.26 668.98,920.80 671.83,921.33 674.69,921.86 677.54,922.39 680.39,922.91 683.24,923.42 686.10,923.93 688.95,924.43 691.80,924.93" fill="none" stroke="#111110" stroke-width="4.0" stroke-linejoin="round" stroke-dasharray="7.4 11.3" stroke-linecap="round"/>
<polyline points="124.20,598.37 127.05,607.80 129.90,617.01 132.76,625.98 135.61,634.73 138.46,643.26 141.31,651.58 144.17,659.68 147.02,667.59 149.87,675.30 152.72,682.81 155.57,690.14 158.43,697.29 161.28,704.25 164.13,711.04 166.98,717.66 169.84,724.12 172.69,730.41 175.54,736.55 178.39,742.53 181.25,748.37 184.10,754.06 186.95,759.60 189.80,765.01 192.65,770.28 195.51,775.42 198.36,780.43 201.21,785.32 204.06,790.08 206.92,794.73 209.77,799.26 212.62,803.67 215.47,807.98 218.32,812.17 221.18,816.27 224.03,820.26 226.88,824.15 229.73,827.94 232.59,831.64 235.44,835.24 238.29,838.76 241.14,842.19 243.99,845.53 246.85,848.79 249.70,851.96 252.55,855.06 255.40,858.08 258.26,861.02 261.11,863.89 263.96,866.69 266.81,869.42 269.67,872.08 272.52,874.68 275.37,877.21 278.22,879.67 281.07,882.08 283.93,884.42 286.78,886.71 289.63,888.93 292.48,891.11 295.34,893.22 298.19,895.29 301.04,897.30 303.89,899.27 306.74,901.18 309.60,903.05 312.45,904.87 315.30,906.64 318.15,908.37 321.01,910.06 323.86,911.70 326.71,913.31 329.56,914.87 332.42,916.39 335.27,917.88 338.12,919.33 340.97,920.74 343.82,922.12 346.68,923.46 349.53,924.77 352.38,926.05 355.23,927.29 358.09,928.50 360.94,929.69 363.79,930.84 366.64,931.96 369.49,933.06 372.35,934.13 375.20,935.17 378.05,936.19 380.90,937.18 383.76,938.15 386.61,939.09 389.46,940.01 392.31,940.90 395.16,941.77 398.02,942.63 400.87,943.45 403.72,944.26 406.57,945.05 409.43,945.82 412.28,946.57 415.13,947.30 417.98,948.02 420.84,948.71 423.69,949.39 426.54,950.05 429.39,950.69 432.24,951.32 435.10,951.93 437.95,952.53 440.80,953.11 443.65,953.68 446.51,954.23 449.36,954.77 452.21,955.30 455.06,955.81 457.91,956.31 460.77,956.80 463.62,957.28 466.47,957.74 469.32,958.19 472.18,958.63 475.03,959.06 477.88,959.48 480.73,959.89 483.58,960.29 486.44,960.68 489.29,961.05 492.14,961.42 494.99,961.78 497.85,962.13 500.70,962.48 503.55,962.81 506.40,963.13 509.26,963.45 512.11,963.76 514.96,964.06 517.81,964.35 520.66,964.64 523.52,964.92 526.37,965.19 529.22,965.46 532.07,965.72 534.93,965.97 537.78,966.22 540.63,966.46 543.48,966.69 546.33,966.92 549.19,967.14 552.04,967.36 554.89,967.57 557.74,967.77 560.60,967.98 563.45,968.17 566.30,968.36 569.15,968.55 572.01,968.73 574.86,968.91 577.71,969.08 580.56,969.25 583.41,969.41 586.27,969.57 589.12,969.73 591.97,969.88 594.82,970.03 597.68,970.17 600.53,970.31 603.38,970.45 606.23,970.59 609.08,970.72 611.94,970.84 614.79,970.97 617.64,971.09 620.49,971.21 623.35,971.32 626.20,971.43 629.05,971.54 631.90,971.65 634.75,971.75 637.61,971.86 640.46,971.95 643.31,972.05 646.16,972.14 649.02,972.24 651.87,972.33 654.72,972.41 657.57,972.50 660.43,972.58 663.28,972.66 666.13,972.74 668.98,972.82 671.83,972.89 674.69,972.96 677.54,973.04 680.39,973.11 683.24,973.17 686.10,973.24 688.95,973.30 691.80,973.37" fill="none" stroke="#111110" stroke-width="4.0" stroke-linejoin="round" stroke-dasharray="0.01 11.1" stroke-linecap="round"/>
<polyline points="124.20,598.37 127.05,607.80 129.90,617.01 132.76,625.98 135.61,634.73 138.46,643.26 141.31,651.58 144.17,659.68 147.02,667.59 149.87,675.30 152.72,682.81 155.57,690.14 158.43,697.29 161.28,704.25 164.13,711.04 166.98,717.66 169.84,724.12 172.69,730.41 175.54,736.55 178.39,742.53 181.25,748.37 184.10,754.06 186.95,759.60 189.80,765.01 192.65,770.28 195.51,775.42 198.36,780.43 201.21,785.32 204.06,790.08 206.92,794.73 209.77,799.26 212.62,803.67 215.47,807.98 218.32,812.17 221.18,816.27 224.03,820.26 226.88,824.15 229.73,827.94 232.59,831.64 235.44,835.24 238.29,838.76 241.14,842.19 243.99,845.53 246.85,848.79 249.70,851.96 252.55,855.06 255.40,858.08 258.26,861.02 261.11,863.89 263.96,866.69 266.81,869.42 269.67,872.08 272.52,874.68 275.37,877.21 278.22,879.67 281.07,882.08 283.93,884.42 286.78,886.71 289.63,888.93 292.48,891.11 295.34,893.22 298.19,895.29 301.04,897.30 303.89,899.27 306.74,901.18 309.60,903.05 312.45,904.87 315.30,906.64 318.15,908.37 321.01,910.06 323.86,911.70 326.71,913.31 329.56,914.87 332.42,916.39 335.27,917.88 338.12,919.33 340.97,920.74 343.82,922.12 346.68,923.46 349.53,924.77 352.38,926.05 355.23,927.29 358.09,928.50 360.94,929.69 363.79,930.84 366.64,931.96 369.49,933.06 372.35,934.13 375.20,935.17 378.05,936.19 380.90,937.18 383.76,938.15 386.61,939.09 389.46,940.01 392.31,940.90 395.16,941.77 398.02,942.63 400.87,943.45 403.72,944.26 406.57,945.05 409.43,945.82 412.28,946.57 415.13,947.30 417.98,948.02 420.84,948.71 423.69,949.39 426.54,950.05 429.39,950.69 432.24,951.32 435.10,951.93 437.95,952.53 440.80,953.11 443.65,953.68 446.51,954.23 449.36,954.77 452.21,955.30 455.06,955.81 457.91,956.31 460.77,956.80 463.62,957.28 466.47,957.74 469.32,958.19 472.18,958.63 475.03,959.06 477.88,959.48 480.73,959.89 483.58,960.29 486.44,960.68 489.29,961.05 492.14,961.42 494.99,961.78 497.85,962.13 500.70,962.48 503.55,962.81 506.40,963.13 509.26,963.45 512.11,963.76 514.96,964.06 517.81,964.35 520.66,964.64 523.52,964.92 526.37,965.19 529.22,965.46 532.07,965.72 534.93,965.97 537.78,966.22 540.63,966.46 543.48,966.69 546.33,966.92 549.19,967.14 552.04,967.36 554.89,967.57 557.74,967.77 560.60,967.98 563.45,968.17 566.30,968.36 569.15,968.55 572.01,968.73 574.86,968.91 577.71,969.08 580.56,969.25 583.41,969.41 586.27,969.57 589.12,969.73 591.97,969.88 594.82,970.03 597.68,970.17 600.53,970.31 603.38,970.45 606.23,970.59 609.08,970.72 611.94,970.84 614.79,970.97 617.64,971.09 620.49,971.21 623.35,971.32 626.20,971.43 629.05,971.54 631.90,971.65 634.75,971.75 637.61,971.86 640.46,971.95 643.31,972.05 646.16,972.14 649.02,972.24 651.87,972.33 654.72,972.41 657.57,972.50 660.43,972.58 663.28,972.66 666.13,972.74 668.98,972.82 671.83,972.89 674.69,972.96 677.54,973.04 680.39,973.11 683.24,973.17 686.10,973.24 688.95,973.30 691.80,973.37" fill="none" stroke="#111110" stroke-width="4.0" stroke-linejoin="round" stroke-dasharray="7.4 11.2 0.01 11.1 0.01 11.3" stroke-linecap="round"/>
<line x1="313.40" y1="772.34" x2="313.40" y2="798.81" stroke="#111110" stroke-width="5.2"/>
<rect x="305.80" y="769.84" width="15.2" height="5.0" fill="#111110"/>
<rect x="305.80" y="796.31" width="15.2" height="5.0" fill="#111110"/>
<line x1="313.40" y1="798.81" x2="313.40" y2="871.43" stroke="#111110" stroke-width="5.2"/>
<rect x="305.80" y="868.93" width="15.2" height="5.0" fill="#111110"/>
<line x1="313.40" y1="886.18" x2="313.40" y2="940.26" stroke="#111110" stroke-width="5.2"/>
<rect x="305.80" y="883.68" width="15.2" height="5.0" fill="#111110"/>
<rect x="305.80" y="894.27" width="15.2" height="5.0" fill="#111110"/>
<rect x="305.80" y="932.09" width="15.2" height="5.0" fill="#111110"/>
<rect x="305.80" y="937.76" width="15.2" height="5.0" fill="#111110"/>
<line x1="502.60" y1="858.19" x2="502.60" y2="960.30" stroke="#111110" stroke-width="5.2"/>
<rect x="495.00" y="855.69" width="15.2" height="5.0" fill="#111110"/>
<rect x="495.00" y="878.38" width="15.2" height="5.0" fill="#111110"/>
<rect x="495.00" y="908.26" width="15.2" height="5.0" fill="#111110"/>
<rect x="495.00" y="912.42" width="15.2" height="5.0" fill="#111110"/>
<rect x="495.00" y="931.33" width="15.2" height="5.0" fill="#111110"/>
<rect x="495.00" y="946.46" width="15.2" height="5.0" fill="#111110"/>
<rect x="495.00" y="957.80" width="15.2" height="5.0" fill="#111110"/>
<polygon points="313.40,908.93 321.40,923.93 305.40,923.93" fill="#111110"/>
<polygon points="313.40,917.50 321.40,902.50 305.40,902.50" fill="#111110"/>
<polygon points="502.60,947.00 510.60,932.00 494.60,932.00" fill="#111110"/>
<circle cx="313.40" cy="785.20" r="8.0" fill="#111110"/>
<circle cx="502.60" cy="872.56" r="8.0" fill="#111110"/>
<circle cx="691.80" cy="928.53" r="8.0" fill="#111110"/>
<rect x="116.40" y="591.70" width="15.6" height="15.6" fill="#111110"/>
<rect x="305.60" y="814.46" width="15.6" height="15.6" fill="#111110"/>
<rect x="494.80" y="887.07" width="15.6" height="15.6" fill="#111110"/>
<rect x="684.00" y="916.95" width="15.6" height="15.6" fill="#111110"/>
<line x1="835.8" y1="598.0" x2="835.8" y2="980.8" stroke="#111110" stroke-width="4.0"/>
<line x1="833.8" y1="978.8" x2="1408.3" y2="978.8" stroke="#111110" stroke-width="4.0"/>
<line x1="824.8" y1="978.80" x2="835.8" y2="978.80" stroke="#111110" stroke-width="4.0"/>
<line x1="830.3" y1="931.39" x2="835.8" y2="931.39" stroke="#111110" stroke-width="4.0"/>
<line x1="824.8" y1="883.97" x2="835.8" y2="883.97" stroke="#111110" stroke-width="4.0"/>
<line x1="830.3" y1="836.56" x2="835.8" y2="836.56" stroke="#111110" stroke-width="4.0"/>
<line x1="824.8" y1="789.15" x2="835.8" y2="789.15" stroke="#111110" stroke-width="4.0"/>
<line x1="830.3" y1="741.74" x2="835.8" y2="741.74" stroke="#111110" stroke-width="4.0"/>
<line x1="824.8" y1="694.32" x2="835.8" y2="694.32" stroke="#111110" stroke-width="4.0"/>
<line x1="830.3" y1="646.91" x2="835.8" y2="646.91" stroke="#111110" stroke-width="4.0"/>
<line x1="824.8" y1="599.50" x2="835.8" y2="599.50" stroke="#111110" stroke-width="4.0"/>
<line x1="835.80" y1="978.8" x2="835.80" y2="989.8" stroke="#111110" stroke-width="4.0"/>
<line x1="892.85" y1="978.8" x2="892.85" y2="984.3" stroke="#111110" stroke-width="4.0"/>
<line x1="949.90" y1="978.8" x2="949.90" y2="989.8" stroke="#111110" stroke-width="4.0"/>
<line x1="1006.95" y1="978.8" x2="1006.95" y2="984.3" stroke="#111110" stroke-width="4.0"/>
<line x1="1064.00" y1="978.8" x2="1064.00" y2="989.8" stroke="#111110" stroke-width="4.0"/>
<line x1="1121.05" y1="978.8" x2="1121.05" y2="984.3" stroke="#111110" stroke-width="4.0"/>
<line x1="1178.10" y1="978.8" x2="1178.10" y2="989.8" stroke="#111110" stroke-width="4.0"/>
<line x1="1235.15" y1="978.8" x2="1235.15" y2="984.3" stroke="#111110" stroke-width="4.0"/>
<line x1="1292.20" y1="978.8" x2="1292.20" y2="989.8" stroke="#111110" stroke-width="4.0"/>
<line x1="1349.25" y1="978.8" x2="1349.25" y2="984.3" stroke="#111110" stroke-width="4.0"/>
<line x1="1406.30" y1="978.8" x2="1406.30" y2="989.8" stroke="#111110" stroke-width="4.0"/>
<text transform="translate(822,988.20) scale(0.95,1)" text-anchor="end" class="tl">0</text>
<text transform="translate(822,893.37) scale(0.95,1)" text-anchor="end" class="tl">25</text>
<text transform="translate(822,798.55) scale(0.95,1)" text-anchor="end" class="tl">50</text>
<text transform="translate(822,703.72) scale(0.95,1)" text-anchor="end" class="tl">75</text>
<text transform="translate(822,608.90) scale(0.95,1)" text-anchor="end" class="tl">100</text>
<text transform="translate(835.80,1022) scale(0.95,1)" text-anchor="middle" class="tl">0</text>
<text transform="translate(949.90,1022) scale(0.95,1)" text-anchor="middle" class="tl">1</text>
<text transform="translate(1064.00,1022) scale(0.95,1)" text-anchor="middle" class="tl">2</text>
<text transform="translate(1178.10,1022) scale(0.95,1)" text-anchor="middle" class="tl">3</text>
<text transform="translate(1292.20,1022) scale(0.95,1)" text-anchor="middle" class="tl">4</text>
<text transform="translate(1406.30,1022) scale(0.95,1)" text-anchor="middle" class="tl">5</text>
<polyline points="835.80,599.12 838.67,601.23 841.53,603.32 844.40,605.40 847.27,607.47 850.13,609.53 853.00,611.58 855.87,613.61 858.73,615.63 861.60,617.64 864.47,619.64 867.34,621.63 870.20,623.60 873.07,625.57 875.94,627.52 878.80,629.46 881.67,631.39 884.54,633.31 887.40,635.22 890.27,637.11 893.14,639.00 896.00,640.87 898.87,642.73 901.74,644.59 904.60,646.43 907.47,648.26 910.34,650.08 913.20,651.89 916.07,653.69 918.94,655.47 921.81,657.25 924.67,659.02 927.54,660.78 930.41,662.52 933.27,664.26 936.14,665.99 939.01,667.70 941.87,669.41 944.74,671.10 947.61,672.79 950.47,674.47 953.34,676.13 956.21,677.79 959.07,679.44 961.94,681.08 964.81,682.71 967.67,684.32 970.54,685.93 973.41,687.53 976.27,689.12 979.14,690.71 982.01,692.28 984.88,693.84 987.74,695.39 990.61,696.94 993.48,698.47 996.34,700.00 999.21,701.52 1002.08,703.03 1004.94,704.53 1007.81,706.02 1010.68,707.50 1013.54,708.98 1016.41,710.44 1019.28,711.90 1022.14,713.35 1025.01,714.79 1027.88,716.22 1030.74,717.64 1033.61,719.06 1036.48,720.46 1039.35,721.86 1042.21,723.25 1045.08,724.63 1047.95,726.01 1050.81,727.37 1053.68,728.73 1056.55,730.08 1059.41,731.42 1062.28,732.76 1065.15,734.08 1068.01,735.40 1070.88,736.71 1073.75,738.02 1076.61,739.31 1079.48,740.60 1082.35,741.88 1085.21,743.16 1088.08,744.42 1090.95,745.68 1093.82,746.93 1096.68,748.18 1099.55,749.41 1102.42,750.64 1105.28,751.86 1108.15,753.08 1111.02,754.29 1113.88,755.49 1116.75,756.68 1119.62,757.87 1122.48,759.05 1125.35,760.22 1128.22,761.39 1131.08,762.55 1133.95,763.70 1136.82,764.85 1139.68,765.99 1142.55,767.12 1145.42,768.24 1148.28,769.36 1151.15,770.48 1154.02,771.58 1156.89,772.68 1159.75,773.78 1162.62,774.86 1165.49,775.94 1168.35,777.02 1171.22,778.09 1174.09,779.15 1176.95,780.21 1179.82,781.25 1182.69,782.30 1185.55,783.34 1188.42,784.37 1191.29,785.39 1194.15,786.41 1197.02,787.43 1199.89,788.43 1202.75,789.43 1205.62,790.43 1208.49,791.42 1211.36,792.40 1214.22,793.38 1217.09,794.36 1219.96,795.32 1222.82,796.28 1225.69,797.24 1228.56,798.19 1231.42,799.13 1234.29,800.07 1237.16,801.01 1240.02,801.94 1242.89,802.86 1245.76,803.78 1248.62,804.69 1251.49,805.59 1254.36,806.50 1257.22,807.39 1260.09,808.28 1262.96,809.17 1265.83,810.05 1268.69,810.92 1271.56,811.80 1274.43,812.66 1277.29,813.52 1280.16,814.38 1283.03,815.23 1285.89,816.07 1288.76,816.91 1291.63,817.75 1294.49,818.58 1297.36,819.40 1300.23,820.22 1303.09,821.04 1305.96,821.85 1308.83,822.66 1311.69,823.46 1314.56,824.26 1317.43,825.05 1320.29,825.84 1323.16,826.62 1326.03,827.40 1328.90,828.17 1331.76,828.94 1334.63,829.71 1337.50,830.47 1340.36,831.22 1343.23,831.98 1346.10,832.72 1348.96,833.47 1351.83,834.21 1354.70,834.94 1357.56,835.67 1360.43,836.40 1363.30,837.12 1366.16,837.84 1369.03,838.55 1371.90,839.26 1374.76,839.96 1377.63,840.66 1380.50,841.36 1383.37,842.05 1386.23,842.74 1389.10,843.43 1391.97,844.11 1394.83,844.78 1397.70,845.46 1400.57,846.12 1403.43,846.79 1406.30,847.45" fill="none" stroke="#111110" stroke-width="4.0" stroke-linejoin="round" />
<polyline points="835.80,599.12 838.67,601.23 841.53,603.32 844.40,605.40 847.27,607.47 850.13,609.53 853.00,611.58 855.87,613.61 858.73,615.63 861.60,617.64 864.47,619.64 867.34,621.63 870.20,623.60 873.07,625.57 875.94,627.52 878.80,629.46 881.67,631.39 884.54,633.31 887.40,635.22 890.27,637.11 893.14,639.00 896.00,640.87 898.87,642.73 901.74,644.59 904.60,646.43 907.47,648.26 910.34,650.08 913.20,651.89 916.07,653.69 918.94,655.47 921.81,657.25 924.67,659.02 927.54,660.78 930.41,662.52 933.27,664.26 936.14,665.99 939.01,667.70 941.87,669.41 944.74,671.10 947.61,672.79 950.47,674.47 953.34,676.13 956.21,677.79 959.07,679.44 961.94,681.08 964.81,682.71 967.67,684.32 970.54,685.93 973.41,687.53 976.27,689.12 979.14,690.71 982.01,692.28 984.88,693.84 987.74,695.39 990.61,696.94 993.48,698.47 996.34,700.00 999.21,701.52 1002.08,703.03 1004.94,704.53 1007.81,706.02 1010.68,707.50 1013.54,708.98 1016.41,710.44 1019.28,711.90 1022.14,713.35 1025.01,714.79 1027.88,716.22 1030.74,717.64 1033.61,719.06 1036.48,720.46 1039.35,721.86 1042.21,723.25 1045.08,724.63 1047.95,726.01 1050.81,727.37 1053.68,728.73 1056.55,730.08 1059.41,731.42 1062.28,732.76 1065.15,734.08 1068.01,735.40 1070.88,736.71 1073.75,738.02 1076.61,739.31 1079.48,740.60 1082.35,741.88 1085.21,743.16 1088.08,744.42 1090.95,745.68 1093.82,746.93 1096.68,748.18 1099.55,749.41 1102.42,750.64 1105.28,751.86 1108.15,753.08 1111.02,754.29 1113.88,755.49 1116.75,756.68 1119.62,757.87 1122.48,759.05 1125.35,760.22 1128.22,761.39 1131.08,762.55 1133.95,763.70 1136.82,764.85 1139.68,765.99 1142.55,767.12 1145.42,768.24 1148.28,769.36 1151.15,770.48 1154.02,771.58 1156.89,772.68 1159.75,773.78 1162.62,774.86 1165.49,775.94 1168.35,777.02 1171.22,778.09 1174.09,779.15 1176.95,780.21 1179.82,781.25 1182.69,782.30 1185.55,783.34 1188.42,784.37 1191.29,785.39 1194.15,786.41 1197.02,787.43 1199.89,788.43 1202.75,789.43 1205.62,790.43 1208.49,791.42 1211.36,792.40 1214.22,793.38 1217.09,794.36 1219.96,795.32 1222.82,796.28 1225.69,797.24 1228.56,798.19 1231.42,799.13 1234.29,800.07 1237.16,801.01 1240.02,801.94 1242.89,802.86 1245.76,803.78 1248.62,804.69 1251.49,805.59 1254.36,806.50 1257.22,807.39 1260.09,808.28 1262.96,809.17 1265.83,810.05 1268.69,810.92 1271.56,811.80 1274.43,812.66 1277.29,813.52 1280.16,814.38 1283.03,815.23 1285.89,816.07 1288.76,816.91 1291.63,817.75 1294.49,818.58 1297.36,819.40 1300.23,820.22 1303.09,821.04 1305.96,821.85 1308.83,822.66 1311.69,823.46 1314.56,824.26 1317.43,825.05 1320.29,825.84 1323.16,826.62 1326.03,827.40 1328.90,828.17 1331.76,828.94 1334.63,829.71 1337.50,830.47 1340.36,831.22 1343.23,831.98 1346.10,832.72 1348.96,833.47 1351.83,834.21 1354.70,834.94 1357.56,835.67 1360.43,836.40 1363.30,837.12 1366.16,837.84 1369.03,838.55 1371.90,839.26 1374.76,839.96 1377.63,840.66 1380.50,841.36 1383.37,842.05 1386.23,842.74 1389.10,843.43 1391.97,844.11 1394.83,844.78 1397.70,845.46 1400.57,846.12 1403.43,846.79 1406.30,847.45" fill="none" stroke="#111110" stroke-width="4.0" stroke-linejoin="round" stroke-dasharray="7.4 11.3" stroke-linecap="round"/>
<polyline points="835.80,594.95 838.67,603.30 841.53,611.47 844.40,619.46 847.27,627.28 850.13,634.92 853.00,642.41 855.87,649.73 858.73,656.89 861.60,663.89 864.47,670.74 867.34,677.44 870.20,684.00 873.07,690.42 875.94,696.69 878.80,702.83 881.67,708.84 884.54,714.71 887.40,720.46 890.27,726.08 893.14,731.58 896.00,736.96 898.87,742.23 901.74,747.38 904.60,752.41 907.47,757.34 910.34,762.16 913.20,766.88 916.07,771.49 918.94,776.01 921.81,780.42 924.67,784.74 927.54,788.97 930.41,793.10 933.27,797.14 936.14,801.10 939.01,804.97 941.87,808.75 944.74,812.46 947.61,816.08 950.47,819.62 953.34,823.09 956.21,826.48 959.07,829.80 961.94,833.05 964.81,836.22 967.67,839.33 970.54,842.37 973.41,845.34 976.27,848.25 979.14,851.09 982.01,853.88 984.88,856.60 987.74,859.26 990.61,861.87 993.48,864.42 996.34,866.91 999.21,869.35 1002.08,871.74 1004.94,874.07 1007.81,876.36 1010.68,878.59 1013.54,880.77 1016.41,882.91 1019.28,885.00 1022.14,887.05 1025.01,889.05 1027.88,891.01 1030.74,892.93 1033.61,894.80 1036.48,896.63 1039.35,898.43 1042.21,900.18 1045.08,901.90 1047.95,903.58 1050.81,905.22 1053.68,906.82 1056.55,908.40 1059.41,909.93 1062.28,911.44 1065.15,912.91 1068.01,914.35 1070.88,915.76 1073.75,917.14 1076.61,918.48 1079.48,919.80 1082.35,921.09 1085.21,922.35 1088.08,923.59 1090.95,924.79 1093.82,925.98 1096.68,927.13 1099.55,928.26 1102.42,929.37 1105.28,930.45 1108.15,931.51 1111.02,932.54 1113.88,933.56 1116.75,934.55 1119.62,935.52 1122.48,936.46 1125.35,937.39 1128.22,938.30 1131.08,939.19 1133.95,940.06 1136.82,940.91 1139.68,941.74 1142.55,942.55 1145.42,943.34 1148.28,944.12 1151.15,944.88 1154.02,945.63 1156.89,946.36 1159.75,947.07 1162.62,947.77 1165.49,948.45 1168.35,949.12 1171.22,949.77 1174.09,950.41 1176.95,951.03 1179.82,951.64 1182.69,952.24 1185.55,952.82 1188.42,953.40 1191.29,953.96 1194.15,954.50 1197.02,955.04 1199.89,955.56 1202.75,956.08 1205.62,956.58 1208.49,957.07 1211.36,957.55 1214.22,958.02 1217.09,958.48 1219.96,958.92 1222.82,959.36 1225.69,959.79 1228.56,960.21 1231.42,960.63 1234.29,961.03 1237.16,961.42 1240.02,961.81 1242.89,962.18 1245.76,962.55 1248.62,962.91 1251.49,963.27 1254.36,963.61 1257.22,963.95 1260.09,964.28 1262.96,964.60 1265.83,964.92 1268.69,965.23 1271.56,965.53 1274.43,965.83 1277.29,966.11 1280.16,966.40 1283.03,966.67 1285.89,966.95 1288.76,967.21 1291.63,967.47 1294.49,967.72 1297.36,967.97 1300.23,968.21 1303.09,968.45 1305.96,968.68 1308.83,968.91 1311.69,969.13 1314.56,969.35 1317.43,969.56 1320.29,969.77 1323.16,969.98 1326.03,970.18 1328.90,970.37 1331.76,970.56 1334.63,970.75 1337.50,970.93 1340.36,971.11 1343.23,971.28 1346.10,971.45 1348.96,971.62 1351.83,971.78 1354.70,971.94 1357.56,972.10 1360.43,972.25 1363.30,972.40 1366.16,972.55 1369.03,972.69 1371.90,972.83 1374.76,972.97 1377.63,973.10 1380.50,973.24 1383.37,973.36 1386.23,973.49 1389.10,973.61 1391.97,973.73 1394.83,973.85 1397.70,973.97 1400.57,974.08 1403.43,974.19 1406.30,974.30" fill="none" stroke="#111110" stroke-width="4.0" stroke-linejoin="round" stroke-dasharray="0.01 11.1" stroke-linecap="round"/>
<polyline points="835.80,594.95 838.67,603.30 841.53,611.47 844.40,619.46 847.27,627.28 850.13,634.92 853.00,642.41 855.87,649.73 858.73,656.89 861.60,663.89 864.47,670.74 867.34,677.44 870.20,684.00 873.07,690.42 875.94,696.69 878.80,702.83 881.67,708.84 884.54,714.71 887.40,720.46 890.27,726.08 893.14,731.58 896.00,736.96 898.87,742.23 901.74,747.38 904.60,752.41 907.47,757.34 910.34,762.16 913.20,766.88 916.07,771.49 918.94,776.01 921.81,780.42 924.67,784.74 927.54,788.97 930.41,793.10 933.27,797.14 936.14,801.10 939.01,804.97 941.87,808.75 944.74,812.46 947.61,816.08 950.47,819.62 953.34,823.09 956.21,826.48 959.07,829.80 961.94,833.05 964.81,836.22 967.67,839.33 970.54,842.37 973.41,845.34 976.27,848.25 979.14,851.09 982.01,853.88 984.88,856.60 987.74,859.26 990.61,861.87 993.48,864.42 996.34,866.91 999.21,869.35 1002.08,871.74 1004.94,874.07 1007.81,876.36 1010.68,878.59 1013.54,880.77 1016.41,882.91 1019.28,885.00 1022.14,887.05 1025.01,889.05 1027.88,891.01 1030.74,892.93 1033.61,894.80 1036.48,896.63 1039.35,898.43 1042.21,900.18 1045.08,901.90 1047.95,903.58 1050.81,905.22 1053.68,906.82 1056.55,908.40 1059.41,909.93 1062.28,911.44 1065.15,912.91 1068.01,914.35 1070.88,915.76 1073.75,917.14 1076.61,918.48 1079.48,919.80 1082.35,921.09 1085.21,922.35 1088.08,923.59 1090.95,924.79 1093.82,925.98 1096.68,927.13 1099.55,928.26 1102.42,929.37 1105.28,930.45 1108.15,931.51 1111.02,932.54 1113.88,933.56 1116.75,934.55 1119.62,935.52 1122.48,936.46 1125.35,937.39 1128.22,938.30 1131.08,939.19 1133.95,940.06 1136.82,940.91 1139.68,941.74 1142.55,942.55 1145.42,943.34 1148.28,944.12 1151.15,944.88 1154.02,945.63 1156.89,946.36 1159.75,947.07 1162.62,947.77 1165.49,948.45 1168.35,949.12 1171.22,949.77 1174.09,950.41 1176.95,951.03 1179.82,951.64 1182.69,952.24 1185.55,952.82 1188.42,953.40 1191.29,953.96 1194.15,954.50 1197.02,955.04 1199.89,955.56 1202.75,956.08 1205.62,956.58 1208.49,957.07 1211.36,957.55 1214.22,958.02 1217.09,958.48 1219.96,958.92 1222.82,959.36 1225.69,959.79 1228.56,960.21 1231.42,960.63 1234.29,961.03 1237.16,961.42 1240.02,961.81 1242.89,962.18 1245.76,962.55 1248.62,962.91 1251.49,963.27 1254.36,963.61 1257.22,963.95 1260.09,964.28 1262.96,964.60 1265.83,964.92 1268.69,965.23 1271.56,965.53 1274.43,965.83 1277.29,966.11 1280.16,966.40 1283.03,966.67 1285.89,966.95 1288.76,967.21 1291.63,967.47 1294.49,967.72 1297.36,967.97 1300.23,968.21 1303.09,968.45 1305.96,968.68 1308.83,968.91 1311.69,969.13 1314.56,969.35 1317.43,969.56 1320.29,969.77 1323.16,969.98 1326.03,970.18 1328.90,970.37 1331.76,970.56 1334.63,970.75 1337.50,970.93 1340.36,971.11 1343.23,971.28 1346.10,971.45 1348.96,971.62 1351.83,971.78 1354.70,971.94 1357.56,972.10 1360.43,972.25 1363.30,972.40 1366.16,972.55 1369.03,972.69 1371.90,972.83 1374.76,972.97 1377.63,973.10 1380.50,973.24 1383.37,973.36 1386.23,973.49 1389.10,973.61 1391.97,973.73 1394.83,973.85 1397.70,973.97 1400.57,974.08 1403.43,974.19 1406.30,974.30" fill="none" stroke="#111110" stroke-width="4.0" stroke-linejoin="round" stroke-dasharray="7.4 11.2 0.01 11.1 0.01 11.3" stroke-linecap="round"/>
<line x1="949.90" y1="648.43" x2="949.90" y2="693.57" stroke="#111110" stroke-width="5.2"/>
<rect x="942.30" y="645.93" width="15.2" height="5.0" fill="#111110"/>
<rect x="942.30" y="660.34" width="15.2" height="5.0" fill="#111110"/>
<rect x="942.30" y="677.41" width="15.2" height="5.0" fill="#111110"/>
<rect x="942.30" y="691.07" width="15.2" height="5.0" fill="#111110"/>
<line x1="949.90" y1="775.50" x2="949.90" y2="849.84" stroke="#111110" stroke-width="5.2"/>
<rect x="942.30" y="770.34" width="15.2" height="5.0" fill="#111110"/>
<rect x="942.30" y="775.65" width="15.2" height="5.0" fill="#111110"/>
<rect x="942.30" y="802.96" width="15.2" height="5.0" fill="#111110"/>
<rect x="942.30" y="847.34" width="15.2" height="5.0" fill="#111110"/>
<line x1="1064.00" y1="709.88" x2="1064.00" y2="755.77" stroke="#111110" stroke-width="5.2"/>
<rect x="1056.40" y="704.72" width="15.2" height="5.0" fill="#111110"/>
<rect x="1056.40" y="710.03" width="15.2" height="5.0" fill="#111110"/>
<rect x="1056.40" y="741.89" width="15.2" height="5.0" fill="#111110"/>
<rect x="1056.40" y="753.27" width="15.2" height="5.0" fill="#111110"/>
<line x1="1064.00" y1="932.90" x2="1064.00" y2="950.73" stroke="#111110" stroke-width="5.2"/>
<rect x="1056.40" y="948.23" width="15.2" height="5.0" fill="#111110"/>
<line x1="1178.10" y1="759.19" x2="1178.10" y2="805.08" stroke="#111110" stroke-width="5.2"/>
<rect x="1170.50" y="756.69" width="15.2" height="5.0" fill="#111110"/>
<rect x="1170.50" y="802.58" width="15.2" height="5.0" fill="#111110"/>
<line x1="1178.10" y1="927.22" x2="1178.10" y2="939.35" stroke="#111110" stroke-width="5.2"/>
<rect x="1170.50" y="924.72" width="15.2" height="5.0" fill="#111110"/>
<line x1="1292.20" y1="797.12" x2="1292.20" y2="847.94" stroke="#111110" stroke-width="5.2"/>
<rect x="1284.60" y="794.62" width="15.2" height="5.0" fill="#111110"/>
<rect x="1284.60" y="799.55" width="15.2" height="5.0" fill="#111110"/>
<rect x="1284.60" y="843.92" width="15.2" height="5.0" fill="#111110"/>
<rect x="1284.60" y="846.96" width="15.2" height="5.0" fill="#111110"/>
<polygon points="949.90,807.44 957.90,822.44 941.90,822.44" fill="#111110"/>
<polygon points="1064.00,920.47 1072.00,935.47 1056.00,935.47" fill="#111110"/>
<polygon points="1178.10,931.85 1186.10,946.85 1170.10,946.85" fill="#111110"/>
<polygon points="949.90,794.37 957.90,779.37 941.90,779.37" fill="#111110"/>
<polygon points="1064.00,945.71 1072.00,930.71 1056.00,930.71" fill="#111110"/>
<polygon points="1178.10,965.44 1186.10,950.44 1170.10,950.44" fill="#111110"/>
<circle cx="949.90" cy="677.26" r="8.0" fill="#111110"/>
<circle cx="1064.00" cy="731.88" r="8.0" fill="#111110"/>
<circle cx="1178.10" cy="780.81" r="8.0" fill="#111110"/>
<circle cx="1292.20" cy="822.91" r="8.0" fill="#111110"/>
<rect x="828.00" y="591.70" width="15.6" height="15.6" fill="#111110"/>
<rect x="942.10" y="661.87" width="15.6" height="15.6" fill="#111110"/>
<rect x="1056.20" y="722.94" width="15.6" height="15.6" fill="#111110"/>
<rect x="1170.30" y="773.01" width="15.6" height="15.6" fill="#111110"/>
<rect x="1284.40" y="815.11" width="15.6" height="15.6" fill="#111110"/>
<text transform="translate(42.7,222.7) rotate(-90)" text-anchor="middle" class="ry">RWC<tspan> (%)</tspan></text>
<text transform="translate(766.2,223) rotate(-90)" text-anchor="middle" class="ry">RWC<tspan> (%)</tspan></text>
<text transform="translate(42.7,787.8) rotate(-90)" text-anchor="middle" class="ry">RWC<tspan> (%)</tspan></text>
<text transform="translate(761.7,789) rotate(-90)" text-anchor="middle" class="ry">RWC<tspan> (%)</tspan></text>
<text x="309.8" y="495" class="at">Time (hours)</text>
<text x="1037.8" y="495" class="at">Time (hours)</text>
<text x="314.9" y="1060" class="at">Time (hours)</text>
<text x="1028.6" y="1060.5" class="at">Time (hours)</text>
<text x="14" y="52" class="pl">A</text>
<text x="738.6" y="50" class="pl">B</text>
<text x="13" y="598" class="pl" style="font-size:56.5px">C</text>
<text x="727.4" y="595.4" class="pl">D</text>
<rect x="1484" y="477.3" width="9.4" height="4.4" rx="1.5" fill="#111110"/>
<circle cx="1522.2" cy="479.5" r="2.5" fill="#111110"/>
<circle cx="1504.3" cy="479.5" r="8" fill="#111110"/>
<text transform="translate(1547,490.2) scale(1.0,1)" class="lg">Fontinalis antipyretica</text>
<rect x="1484" y="522.9" width="40" height="4.2" fill="#111110"/>
<rect x="1496.6" y="517.3" width="15.4" height="15.4" fill="#111110"/>
<text transform="translate(1547,535.5) scale(0.985,1)" class="lg">Pleurochaete squarrosa</text>
<path d="M1483.3 567.7A2.3 2.3 0 0 1 1483.3 572.3Z" fill="#111110"/>
<circle cx="1495.5" cy="570.0" r="2.4" fill="#111110"/>
<circle cx="1518.3" cy="570.0" r="2.4" fill="#111110"/>
<polygon points="1504.3,562.6 1512.3,577.8 1496.3,577.8" fill="#111110"/>
<text transform="translate(1547,580.8) scale(1.0,1)" class="lg">Tortella tortuosa</text>
<rect x="1484" y="613.3" width="9.4" height="4.4" rx="1.5" fill="#111110"/>
<circle cx="1514.5" cy="615.5" r="2.4" fill="#111110"/>
<polygon points="1504.3,622.9 1512.3,607.9 1496.3,607.9" fill="#111110"/>
<text transform="translate(1547,626.2) scale(1.0,1)" class="lg">Campylopus pyriformis</text>
</svg>
</body></html>
